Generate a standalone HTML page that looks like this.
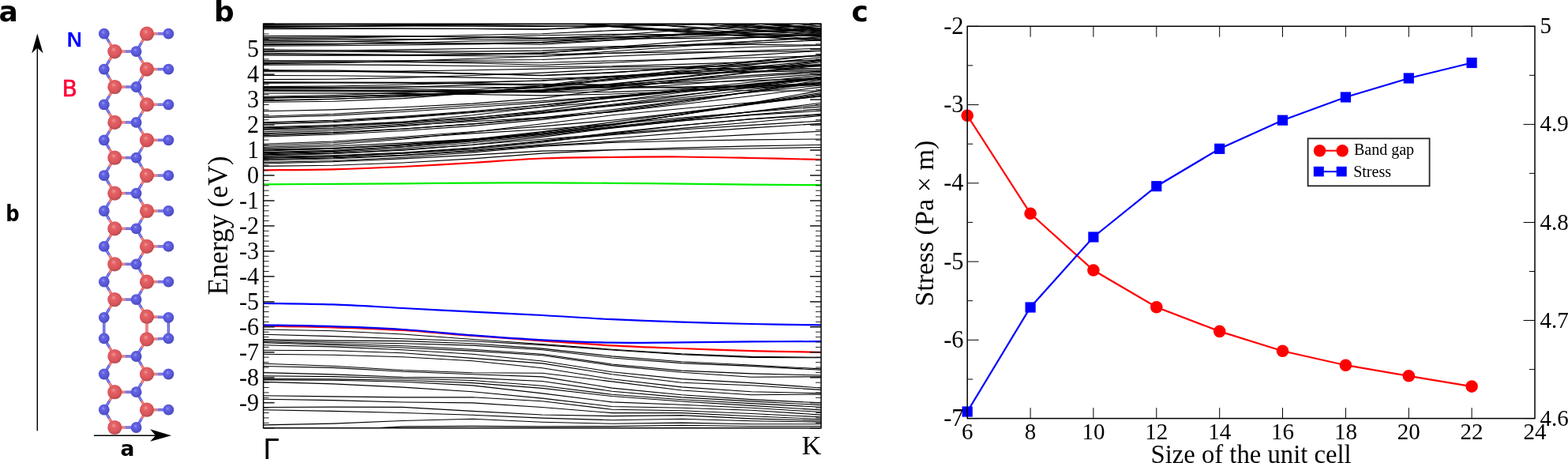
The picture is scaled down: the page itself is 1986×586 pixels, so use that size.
<!DOCTYPE html><html><head><meta charset="utf-8"><style>html,body{margin:0;padding:0;background:#fff;}svg{display:block;}</style></head><body>
<svg width="1986" height="586" viewBox="0 0 1986 586">
<rect width="100%" height="100%" fill="#fff"/>
<text x="-1.5" y="27" font-family="'DejaVu Sans', 'Liberation Sans', sans-serif" font-weight="bold" font-size="36">a</text>
<text x="271" y="27" font-family="'DejaVu Sans', 'Liberation Sans', sans-serif" font-weight="bold" font-size="36">b</text>
<text x="1078.5" y="27" font-family="'DejaVu Sans', 'Liberation Sans', sans-serif" font-weight="bold" font-size="36">c</text>
<g id="pa">
<defs>
<radialGradient id="gB" cx="0.45" cy="0.42" r="0.62" fx="0.42" fy="0.36"><stop offset="0" stop-color="#f09a9a"/><stop offset="0.25" stop-color="#e46468"/><stop offset="0.7" stop-color="#d9545a"/><stop offset="1" stop-color="#a9494c"/></radialGradient>
<radialGradient id="gN" cx="0.45" cy="0.42" r="0.62" fx="0.42" fy="0.36"><stop offset="0" stop-color="#9a9af2"/><stop offset="0.25" stop-color="#6464e4"/><stop offset="0.7" stop-color="#5454d6"/><stop offset="1" stop-color="#4545a8"/></radialGradient>
</defs>
<line x1="186.0" y1="42.7" x2="199.7" y2="42.7" stroke="#e26468" stroke-width="3.4"/>
<line x1="186.0" y1="42.7" x2="199.7" y2="42.7" stroke="#f4a4a4" stroke-width="1"/>
<line x1="199.7" y1="42.7" x2="213.4" y2="42.7" stroke="#5a5ad8" stroke-width="3.4"/>
<line x1="199.7" y1="42.7" x2="213.4" y2="42.7" stroke="#9c9cf0" stroke-width="1"/>
<line x1="145.3" y1="65.1" x2="158.9" y2="65.1" stroke="#e26468" stroke-width="3.4"/>
<line x1="145.3" y1="65.1" x2="158.9" y2="65.1" stroke="#f4a4a4" stroke-width="1"/>
<line x1="158.9" y1="65.1" x2="172.6" y2="65.1" stroke="#5a5ad8" stroke-width="3.4"/>
<line x1="158.9" y1="65.1" x2="172.6" y2="65.1" stroke="#9c9cf0" stroke-width="1"/>
<line x1="186.0" y1="87.6" x2="199.7" y2="87.6" stroke="#e26468" stroke-width="3.4"/>
<line x1="186.0" y1="87.6" x2="199.7" y2="87.6" stroke="#f4a4a4" stroke-width="1"/>
<line x1="199.7" y1="87.6" x2="213.4" y2="87.6" stroke="#5a5ad8" stroke-width="3.4"/>
<line x1="199.7" y1="87.6" x2="213.4" y2="87.6" stroke="#9c9cf0" stroke-width="1"/>
<line x1="145.3" y1="110.0" x2="158.9" y2="110.0" stroke="#e26468" stroke-width="3.4"/>
<line x1="145.3" y1="110.0" x2="158.9" y2="110.0" stroke="#f4a4a4" stroke-width="1"/>
<line x1="158.9" y1="110.0" x2="172.6" y2="110.0" stroke="#5a5ad8" stroke-width="3.4"/>
<line x1="158.9" y1="110.0" x2="172.6" y2="110.0" stroke="#9c9cf0" stroke-width="1"/>
<line x1="186.0" y1="132.4" x2="199.7" y2="132.4" stroke="#e26468" stroke-width="3.4"/>
<line x1="186.0" y1="132.4" x2="199.7" y2="132.4" stroke="#f4a4a4" stroke-width="1"/>
<line x1="199.7" y1="132.4" x2="213.4" y2="132.4" stroke="#5a5ad8" stroke-width="3.4"/>
<line x1="199.7" y1="132.4" x2="213.4" y2="132.4" stroke="#9c9cf0" stroke-width="1"/>
<line x1="145.3" y1="154.9" x2="158.9" y2="154.9" stroke="#e26468" stroke-width="3.4"/>
<line x1="145.3" y1="154.9" x2="158.9" y2="154.9" stroke="#f4a4a4" stroke-width="1"/>
<line x1="158.9" y1="154.9" x2="172.6" y2="154.9" stroke="#5a5ad8" stroke-width="3.4"/>
<line x1="158.9" y1="154.9" x2="172.6" y2="154.9" stroke="#9c9cf0" stroke-width="1"/>
<line x1="186.0" y1="177.3" x2="199.7" y2="177.3" stroke="#e26468" stroke-width="3.4"/>
<line x1="186.0" y1="177.3" x2="199.7" y2="177.3" stroke="#f4a4a4" stroke-width="1"/>
<line x1="199.7" y1="177.3" x2="213.4" y2="177.3" stroke="#5a5ad8" stroke-width="3.4"/>
<line x1="199.7" y1="177.3" x2="213.4" y2="177.3" stroke="#9c9cf0" stroke-width="1"/>
<line x1="145.3" y1="199.7" x2="158.9" y2="199.7" stroke="#e26468" stroke-width="3.4"/>
<line x1="145.3" y1="199.7" x2="158.9" y2="199.7" stroke="#f4a4a4" stroke-width="1"/>
<line x1="158.9" y1="199.7" x2="172.6" y2="199.7" stroke="#5a5ad8" stroke-width="3.4"/>
<line x1="158.9" y1="199.7" x2="172.6" y2="199.7" stroke="#9c9cf0" stroke-width="1"/>
<line x1="186.0" y1="222.1" x2="199.7" y2="222.1" stroke="#e26468" stroke-width="3.4"/>
<line x1="186.0" y1="222.1" x2="199.7" y2="222.1" stroke="#f4a4a4" stroke-width="1"/>
<line x1="199.7" y1="222.1" x2="213.4" y2="222.1" stroke="#5a5ad8" stroke-width="3.4"/>
<line x1="199.7" y1="222.1" x2="213.4" y2="222.1" stroke="#9c9cf0" stroke-width="1"/>
<line x1="145.3" y1="244.6" x2="158.9" y2="244.6" stroke="#e26468" stroke-width="3.4"/>
<line x1="145.3" y1="244.6" x2="158.9" y2="244.6" stroke="#f4a4a4" stroke-width="1"/>
<line x1="158.9" y1="244.6" x2="172.6" y2="244.6" stroke="#5a5ad8" stroke-width="3.4"/>
<line x1="158.9" y1="244.6" x2="172.6" y2="244.6" stroke="#9c9cf0" stroke-width="1"/>
<line x1="186.0" y1="267.0" x2="199.7" y2="267.0" stroke="#e26468" stroke-width="3.4"/>
<line x1="186.0" y1="267.0" x2="199.7" y2="267.0" stroke="#f4a4a4" stroke-width="1"/>
<line x1="199.7" y1="267.0" x2="213.4" y2="267.0" stroke="#5a5ad8" stroke-width="3.4"/>
<line x1="199.7" y1="267.0" x2="213.4" y2="267.0" stroke="#9c9cf0" stroke-width="1"/>
<line x1="145.3" y1="289.4" x2="158.9" y2="289.4" stroke="#e26468" stroke-width="3.4"/>
<line x1="145.3" y1="289.4" x2="158.9" y2="289.4" stroke="#f4a4a4" stroke-width="1"/>
<line x1="158.9" y1="289.4" x2="172.6" y2="289.4" stroke="#5a5ad8" stroke-width="3.4"/>
<line x1="158.9" y1="289.4" x2="172.6" y2="289.4" stroke="#9c9cf0" stroke-width="1"/>
<line x1="186.0" y1="311.9" x2="199.7" y2="311.9" stroke="#e26468" stroke-width="3.4"/>
<line x1="186.0" y1="311.9" x2="199.7" y2="311.9" stroke="#f4a4a4" stroke-width="1"/>
<line x1="199.7" y1="311.9" x2="213.4" y2="311.9" stroke="#5a5ad8" stroke-width="3.4"/>
<line x1="199.7" y1="311.9" x2="213.4" y2="311.9" stroke="#9c9cf0" stroke-width="1"/>
<line x1="145.3" y1="334.3" x2="158.9" y2="334.3" stroke="#e26468" stroke-width="3.4"/>
<line x1="145.3" y1="334.3" x2="158.9" y2="334.3" stroke="#f4a4a4" stroke-width="1"/>
<line x1="158.9" y1="334.3" x2="172.6" y2="334.3" stroke="#5a5ad8" stroke-width="3.4"/>
<line x1="158.9" y1="334.3" x2="172.6" y2="334.3" stroke="#9c9cf0" stroke-width="1"/>
<line x1="186.0" y1="356.7" x2="199.7" y2="356.7" stroke="#e26468" stroke-width="3.4"/>
<line x1="186.0" y1="356.7" x2="199.7" y2="356.7" stroke="#f4a4a4" stroke-width="1"/>
<line x1="199.7" y1="356.7" x2="213.4" y2="356.7" stroke="#5a5ad8" stroke-width="3.4"/>
<line x1="199.7" y1="356.7" x2="213.4" y2="356.7" stroke="#9c9cf0" stroke-width="1"/>
<line x1="145.3" y1="379.1" x2="158.9" y2="379.1" stroke="#e26468" stroke-width="3.4"/>
<line x1="145.3" y1="379.1" x2="158.9" y2="379.1" stroke="#f4a4a4" stroke-width="1"/>
<line x1="158.9" y1="379.1" x2="172.6" y2="379.1" stroke="#5a5ad8" stroke-width="3.4"/>
<line x1="158.9" y1="379.1" x2="172.6" y2="379.1" stroke="#9c9cf0" stroke-width="1"/>
<line x1="186.0" y1="400.7" x2="199.7" y2="401.2" stroke="#e26468" stroke-width="3.4"/>
<line x1="186.0" y1="400.7" x2="199.7" y2="401.2" stroke="#f4a4a4" stroke-width="1"/>
<line x1="199.7" y1="401.2" x2="213.4" y2="401.8" stroke="#5a5ad8" stroke-width="3.4"/>
<line x1="199.7" y1="401.2" x2="213.4" y2="401.8" stroke="#9c9cf0" stroke-width="1"/>
<line x1="186.0" y1="429.4" x2="199.7" y2="428.9" stroke="#e26468" stroke-width="3.4"/>
<line x1="186.0" y1="429.4" x2="199.7" y2="428.9" stroke="#f4a4a4" stroke-width="1"/>
<line x1="199.7" y1="428.9" x2="213.4" y2="428.4" stroke="#5a5ad8" stroke-width="3.4"/>
<line x1="199.7" y1="428.9" x2="213.4" y2="428.4" stroke="#9c9cf0" stroke-width="1"/>
<line x1="145.3" y1="451.0" x2="158.9" y2="451.0" stroke="#e26468" stroke-width="3.4"/>
<line x1="145.3" y1="451.0" x2="158.9" y2="451.0" stroke="#f4a4a4" stroke-width="1"/>
<line x1="158.9" y1="451.0" x2="172.6" y2="451.0" stroke="#5a5ad8" stroke-width="3.4"/>
<line x1="158.9" y1="451.0" x2="172.6" y2="451.0" stroke="#9c9cf0" stroke-width="1"/>
<line x1="186.0" y1="473.5" x2="199.7" y2="473.5" stroke="#e26468" stroke-width="3.4"/>
<line x1="186.0" y1="473.5" x2="199.7" y2="473.5" stroke="#f4a4a4" stroke-width="1"/>
<line x1="199.7" y1="473.5" x2="213.4" y2="473.5" stroke="#5a5ad8" stroke-width="3.4"/>
<line x1="199.7" y1="473.5" x2="213.4" y2="473.5" stroke="#9c9cf0" stroke-width="1"/>
<line x1="145.3" y1="496.2" x2="158.9" y2="496.2" stroke="#e26468" stroke-width="3.4"/>
<line x1="145.3" y1="496.2" x2="158.9" y2="496.2" stroke="#f4a4a4" stroke-width="1"/>
<line x1="158.9" y1="496.2" x2="172.6" y2="496.2" stroke="#5a5ad8" stroke-width="3.4"/>
<line x1="158.9" y1="496.2" x2="172.6" y2="496.2" stroke="#9c9cf0" stroke-width="1"/>
<line x1="186.0" y1="518.7" x2="199.7" y2="518.7" stroke="#e26468" stroke-width="3.4"/>
<line x1="186.0" y1="518.7" x2="199.7" y2="518.7" stroke="#f4a4a4" stroke-width="1"/>
<line x1="199.7" y1="518.7" x2="213.4" y2="518.7" stroke="#5a5ad8" stroke-width="3.4"/>
<line x1="199.7" y1="518.7" x2="213.4" y2="518.7" stroke="#9c9cf0" stroke-width="1"/>
<line x1="145.3" y1="541.0" x2="158.9" y2="541.0" stroke="#e26468" stroke-width="3.4"/>
<line x1="145.3" y1="541.0" x2="158.9" y2="541.0" stroke="#f4a4a4" stroke-width="1"/>
<line x1="158.9" y1="541.0" x2="172.6" y2="541.0" stroke="#5a5ad8" stroke-width="3.4"/>
<line x1="158.9" y1="541.0" x2="172.6" y2="541.0" stroke="#9c9cf0" stroke-width="1"/>
<line x1="131.8" y1="42.7" x2="138.6" y2="53.9" stroke="#5a5ad8" stroke-width="3.4"/>
<line x1="131.8" y1="42.7" x2="138.6" y2="53.9" stroke="#9c9cf0" stroke-width="1"/>
<line x1="138.6" y1="53.9" x2="145.3" y2="65.1" stroke="#e26468" stroke-width="3.4"/>
<line x1="138.6" y1="53.9" x2="145.3" y2="65.1" stroke="#f4a4a4" stroke-width="1"/>
<line x1="186.0" y1="42.7" x2="179.3" y2="53.9" stroke="#e26468" stroke-width="3.4"/>
<line x1="186.0" y1="42.7" x2="179.3" y2="53.9" stroke="#f4a4a4" stroke-width="1"/>
<line x1="179.3" y1="53.9" x2="172.6" y2="65.1" stroke="#5a5ad8" stroke-width="3.4"/>
<line x1="179.3" y1="53.9" x2="172.6" y2="65.1" stroke="#9c9cf0" stroke-width="1"/>
<line x1="145.3" y1="65.1" x2="138.6" y2="76.3" stroke="#e26468" stroke-width="3.4"/>
<line x1="145.3" y1="65.1" x2="138.6" y2="76.3" stroke="#f4a4a4" stroke-width="1"/>
<line x1="138.6" y1="76.3" x2="131.8" y2="87.6" stroke="#5a5ad8" stroke-width="3.4"/>
<line x1="138.6" y1="76.3" x2="131.8" y2="87.6" stroke="#9c9cf0" stroke-width="1"/>
<line x1="172.6" y1="65.1" x2="179.3" y2="76.3" stroke="#5a5ad8" stroke-width="3.4"/>
<line x1="172.6" y1="65.1" x2="179.3" y2="76.3" stroke="#9c9cf0" stroke-width="1"/>
<line x1="179.3" y1="76.3" x2="186.0" y2="87.6" stroke="#e26468" stroke-width="3.4"/>
<line x1="179.3" y1="76.3" x2="186.0" y2="87.6" stroke="#f4a4a4" stroke-width="1"/>
<line x1="131.8" y1="87.6" x2="138.6" y2="98.8" stroke="#5a5ad8" stroke-width="3.4"/>
<line x1="131.8" y1="87.6" x2="138.6" y2="98.8" stroke="#9c9cf0" stroke-width="1"/>
<line x1="138.6" y1="98.8" x2="145.3" y2="110.0" stroke="#e26468" stroke-width="3.4"/>
<line x1="138.6" y1="98.8" x2="145.3" y2="110.0" stroke="#f4a4a4" stroke-width="1"/>
<line x1="186.0" y1="87.6" x2="179.3" y2="98.8" stroke="#e26468" stroke-width="3.4"/>
<line x1="186.0" y1="87.6" x2="179.3" y2="98.8" stroke="#f4a4a4" stroke-width="1"/>
<line x1="179.3" y1="98.8" x2="172.6" y2="110.0" stroke="#5a5ad8" stroke-width="3.4"/>
<line x1="179.3" y1="98.8" x2="172.6" y2="110.0" stroke="#9c9cf0" stroke-width="1"/>
<line x1="145.3" y1="110.0" x2="138.6" y2="121.2" stroke="#e26468" stroke-width="3.4"/>
<line x1="145.3" y1="110.0" x2="138.6" y2="121.2" stroke="#f4a4a4" stroke-width="1"/>
<line x1="138.6" y1="121.2" x2="131.8" y2="132.4" stroke="#5a5ad8" stroke-width="3.4"/>
<line x1="138.6" y1="121.2" x2="131.8" y2="132.4" stroke="#9c9cf0" stroke-width="1"/>
<line x1="172.6" y1="110.0" x2="179.3" y2="121.2" stroke="#5a5ad8" stroke-width="3.4"/>
<line x1="172.6" y1="110.0" x2="179.3" y2="121.2" stroke="#9c9cf0" stroke-width="1"/>
<line x1="179.3" y1="121.2" x2="186.0" y2="132.4" stroke="#e26468" stroke-width="3.4"/>
<line x1="179.3" y1="121.2" x2="186.0" y2="132.4" stroke="#f4a4a4" stroke-width="1"/>
<line x1="131.8" y1="132.4" x2="138.6" y2="143.6" stroke="#5a5ad8" stroke-width="3.4"/>
<line x1="131.8" y1="132.4" x2="138.6" y2="143.6" stroke="#9c9cf0" stroke-width="1"/>
<line x1="138.6" y1="143.6" x2="145.3" y2="154.9" stroke="#e26468" stroke-width="3.4"/>
<line x1="138.6" y1="143.6" x2="145.3" y2="154.9" stroke="#f4a4a4" stroke-width="1"/>
<line x1="186.0" y1="132.4" x2="179.3" y2="143.6" stroke="#e26468" stroke-width="3.4"/>
<line x1="186.0" y1="132.4" x2="179.3" y2="143.6" stroke="#f4a4a4" stroke-width="1"/>
<line x1="179.3" y1="143.6" x2="172.6" y2="154.9" stroke="#5a5ad8" stroke-width="3.4"/>
<line x1="179.3" y1="143.6" x2="172.6" y2="154.9" stroke="#9c9cf0" stroke-width="1"/>
<line x1="145.3" y1="154.9" x2="138.6" y2="166.1" stroke="#e26468" stroke-width="3.4"/>
<line x1="145.3" y1="154.9" x2="138.6" y2="166.1" stroke="#f4a4a4" stroke-width="1"/>
<line x1="138.6" y1="166.1" x2="131.8" y2="177.3" stroke="#5a5ad8" stroke-width="3.4"/>
<line x1="138.6" y1="166.1" x2="131.8" y2="177.3" stroke="#9c9cf0" stroke-width="1"/>
<line x1="172.6" y1="154.9" x2="179.3" y2="166.1" stroke="#5a5ad8" stroke-width="3.4"/>
<line x1="172.6" y1="154.9" x2="179.3" y2="166.1" stroke="#9c9cf0" stroke-width="1"/>
<line x1="179.3" y1="166.1" x2="186.0" y2="177.3" stroke="#e26468" stroke-width="3.4"/>
<line x1="179.3" y1="166.1" x2="186.0" y2="177.3" stroke="#f4a4a4" stroke-width="1"/>
<line x1="131.8" y1="177.3" x2="138.6" y2="188.5" stroke="#5a5ad8" stroke-width="3.4"/>
<line x1="131.8" y1="177.3" x2="138.6" y2="188.5" stroke="#9c9cf0" stroke-width="1"/>
<line x1="138.6" y1="188.5" x2="145.3" y2="199.7" stroke="#e26468" stroke-width="3.4"/>
<line x1="138.6" y1="188.5" x2="145.3" y2="199.7" stroke="#f4a4a4" stroke-width="1"/>
<line x1="186.0" y1="177.3" x2="179.3" y2="188.5" stroke="#e26468" stroke-width="3.4"/>
<line x1="186.0" y1="177.3" x2="179.3" y2="188.5" stroke="#f4a4a4" stroke-width="1"/>
<line x1="179.3" y1="188.5" x2="172.6" y2="199.7" stroke="#5a5ad8" stroke-width="3.4"/>
<line x1="179.3" y1="188.5" x2="172.6" y2="199.7" stroke="#9c9cf0" stroke-width="1"/>
<line x1="145.3" y1="199.7" x2="138.6" y2="210.9" stroke="#e26468" stroke-width="3.4"/>
<line x1="145.3" y1="199.7" x2="138.6" y2="210.9" stroke="#f4a4a4" stroke-width="1"/>
<line x1="138.6" y1="210.9" x2="131.8" y2="222.1" stroke="#5a5ad8" stroke-width="3.4"/>
<line x1="138.6" y1="210.9" x2="131.8" y2="222.1" stroke="#9c9cf0" stroke-width="1"/>
<line x1="172.6" y1="199.7" x2="179.3" y2="210.9" stroke="#5a5ad8" stroke-width="3.4"/>
<line x1="172.6" y1="199.7" x2="179.3" y2="210.9" stroke="#9c9cf0" stroke-width="1"/>
<line x1="179.3" y1="210.9" x2="186.0" y2="222.1" stroke="#e26468" stroke-width="3.4"/>
<line x1="179.3" y1="210.9" x2="186.0" y2="222.1" stroke="#f4a4a4" stroke-width="1"/>
<line x1="131.8" y1="222.1" x2="138.6" y2="233.4" stroke="#5a5ad8" stroke-width="3.4"/>
<line x1="131.8" y1="222.1" x2="138.6" y2="233.4" stroke="#9c9cf0" stroke-width="1"/>
<line x1="138.6" y1="233.4" x2="145.3" y2="244.6" stroke="#e26468" stroke-width="3.4"/>
<line x1="138.6" y1="233.4" x2="145.3" y2="244.6" stroke="#f4a4a4" stroke-width="1"/>
<line x1="186.0" y1="222.1" x2="179.3" y2="233.4" stroke="#e26468" stroke-width="3.4"/>
<line x1="186.0" y1="222.1" x2="179.3" y2="233.4" stroke="#f4a4a4" stroke-width="1"/>
<line x1="179.3" y1="233.4" x2="172.6" y2="244.6" stroke="#5a5ad8" stroke-width="3.4"/>
<line x1="179.3" y1="233.4" x2="172.6" y2="244.6" stroke="#9c9cf0" stroke-width="1"/>
<line x1="145.3" y1="244.6" x2="138.6" y2="255.8" stroke="#e26468" stroke-width="3.4"/>
<line x1="145.3" y1="244.6" x2="138.6" y2="255.8" stroke="#f4a4a4" stroke-width="1"/>
<line x1="138.6" y1="255.8" x2="131.8" y2="267.0" stroke="#5a5ad8" stroke-width="3.4"/>
<line x1="138.6" y1="255.8" x2="131.8" y2="267.0" stroke="#9c9cf0" stroke-width="1"/>
<line x1="172.6" y1="244.6" x2="179.3" y2="255.8" stroke="#5a5ad8" stroke-width="3.4"/>
<line x1="172.6" y1="244.6" x2="179.3" y2="255.8" stroke="#9c9cf0" stroke-width="1"/>
<line x1="179.3" y1="255.8" x2="186.0" y2="267.0" stroke="#e26468" stroke-width="3.4"/>
<line x1="179.3" y1="255.8" x2="186.0" y2="267.0" stroke="#f4a4a4" stroke-width="1"/>
<line x1="131.8" y1="267.0" x2="138.6" y2="278.2" stroke="#5a5ad8" stroke-width="3.4"/>
<line x1="131.8" y1="267.0" x2="138.6" y2="278.2" stroke="#9c9cf0" stroke-width="1"/>
<line x1="138.6" y1="278.2" x2="145.3" y2="289.4" stroke="#e26468" stroke-width="3.4"/>
<line x1="138.6" y1="278.2" x2="145.3" y2="289.4" stroke="#f4a4a4" stroke-width="1"/>
<line x1="186.0" y1="267.0" x2="179.3" y2="278.2" stroke="#e26468" stroke-width="3.4"/>
<line x1="186.0" y1="267.0" x2="179.3" y2="278.2" stroke="#f4a4a4" stroke-width="1"/>
<line x1="179.3" y1="278.2" x2="172.6" y2="289.4" stroke="#5a5ad8" stroke-width="3.4"/>
<line x1="179.3" y1="278.2" x2="172.6" y2="289.4" stroke="#9c9cf0" stroke-width="1"/>
<line x1="145.3" y1="289.4" x2="138.6" y2="300.6" stroke="#e26468" stroke-width="3.4"/>
<line x1="145.3" y1="289.4" x2="138.6" y2="300.6" stroke="#f4a4a4" stroke-width="1"/>
<line x1="138.6" y1="300.6" x2="131.8" y2="311.9" stroke="#5a5ad8" stroke-width="3.4"/>
<line x1="138.6" y1="300.6" x2="131.8" y2="311.9" stroke="#9c9cf0" stroke-width="1"/>
<line x1="172.6" y1="289.4" x2="179.3" y2="300.6" stroke="#5a5ad8" stroke-width="3.4"/>
<line x1="172.6" y1="289.4" x2="179.3" y2="300.6" stroke="#9c9cf0" stroke-width="1"/>
<line x1="179.3" y1="300.6" x2="186.0" y2="311.9" stroke="#e26468" stroke-width="3.4"/>
<line x1="179.3" y1="300.6" x2="186.0" y2="311.9" stroke="#f4a4a4" stroke-width="1"/>
<line x1="131.8" y1="311.9" x2="138.6" y2="323.1" stroke="#5a5ad8" stroke-width="3.4"/>
<line x1="131.8" y1="311.9" x2="138.6" y2="323.1" stroke="#9c9cf0" stroke-width="1"/>
<line x1="138.6" y1="323.1" x2="145.3" y2="334.3" stroke="#e26468" stroke-width="3.4"/>
<line x1="138.6" y1="323.1" x2="145.3" y2="334.3" stroke="#f4a4a4" stroke-width="1"/>
<line x1="186.0" y1="311.9" x2="179.3" y2="323.1" stroke="#e26468" stroke-width="3.4"/>
<line x1="186.0" y1="311.9" x2="179.3" y2="323.1" stroke="#f4a4a4" stroke-width="1"/>
<line x1="179.3" y1="323.1" x2="172.6" y2="334.3" stroke="#5a5ad8" stroke-width="3.4"/>
<line x1="179.3" y1="323.1" x2="172.6" y2="334.3" stroke="#9c9cf0" stroke-width="1"/>
<line x1="145.3" y1="334.3" x2="138.6" y2="345.5" stroke="#e26468" stroke-width="3.4"/>
<line x1="145.3" y1="334.3" x2="138.6" y2="345.5" stroke="#f4a4a4" stroke-width="1"/>
<line x1="138.6" y1="345.5" x2="131.8" y2="356.7" stroke="#5a5ad8" stroke-width="3.4"/>
<line x1="138.6" y1="345.5" x2="131.8" y2="356.7" stroke="#9c9cf0" stroke-width="1"/>
<line x1="172.6" y1="334.3" x2="179.3" y2="345.5" stroke="#5a5ad8" stroke-width="3.4"/>
<line x1="172.6" y1="334.3" x2="179.3" y2="345.5" stroke="#9c9cf0" stroke-width="1"/>
<line x1="179.3" y1="345.5" x2="186.0" y2="356.7" stroke="#e26468" stroke-width="3.4"/>
<line x1="179.3" y1="345.5" x2="186.0" y2="356.7" stroke="#f4a4a4" stroke-width="1"/>
<line x1="131.8" y1="356.7" x2="138.6" y2="367.9" stroke="#5a5ad8" stroke-width="3.4"/>
<line x1="131.8" y1="356.7" x2="138.6" y2="367.9" stroke="#9c9cf0" stroke-width="1"/>
<line x1="138.6" y1="367.9" x2="145.3" y2="379.1" stroke="#e26468" stroke-width="3.4"/>
<line x1="138.6" y1="367.9" x2="145.3" y2="379.1" stroke="#f4a4a4" stroke-width="1"/>
<line x1="186.0" y1="356.7" x2="179.3" y2="367.9" stroke="#e26468" stroke-width="3.4"/>
<line x1="186.0" y1="356.7" x2="179.3" y2="367.9" stroke="#f4a4a4" stroke-width="1"/>
<line x1="179.3" y1="367.9" x2="172.6" y2="379.1" stroke="#5a5ad8" stroke-width="3.4"/>
<line x1="179.3" y1="367.9" x2="172.6" y2="379.1" stroke="#9c9cf0" stroke-width="1"/>
<line x1="145.3" y1="379.1" x2="138.6" y2="390.5" stroke="#e26468" stroke-width="3.4"/>
<line x1="145.3" y1="379.1" x2="138.6" y2="390.5" stroke="#f4a4a4" stroke-width="1"/>
<line x1="138.6" y1="390.5" x2="131.8" y2="401.8" stroke="#5a5ad8" stroke-width="3.4"/>
<line x1="138.6" y1="390.5" x2="131.8" y2="401.8" stroke="#9c9cf0" stroke-width="1"/>
<line x1="172.6" y1="379.1" x2="179.3" y2="389.9" stroke="#5a5ad8" stroke-width="3.4"/>
<line x1="172.6" y1="379.1" x2="179.3" y2="389.9" stroke="#9c9cf0" stroke-width="1"/>
<line x1="179.3" y1="389.9" x2="186.0" y2="400.7" stroke="#e26468" stroke-width="3.4"/>
<line x1="179.3" y1="389.9" x2="186.0" y2="400.7" stroke="#f4a4a4" stroke-width="1"/>
<line x1="131.8" y1="401.8" x2="131.8" y2="415.1" stroke="#5a5ad8" stroke-width="3.4"/>
<line x1="131.8" y1="401.8" x2="131.8" y2="415.1" stroke="#9c9cf0" stroke-width="1"/>
<line x1="131.8" y1="415.1" x2="131.8" y2="428.4" stroke="#5a5ad8" stroke-width="3.4"/>
<line x1="131.8" y1="415.1" x2="131.8" y2="428.4" stroke="#9c9cf0" stroke-width="1"/>
<line x1="186.0" y1="400.7" x2="186.0" y2="415.0" stroke="#e26468" stroke-width="3.4"/>
<line x1="186.0" y1="400.7" x2="186.0" y2="415.0" stroke="#f4a4a4" stroke-width="1"/>
<line x1="186.0" y1="415.0" x2="186.0" y2="429.4" stroke="#e26468" stroke-width="3.4"/>
<line x1="186.0" y1="415.0" x2="186.0" y2="429.4" stroke="#f4a4a4" stroke-width="1"/>
<line x1="213.4" y1="401.8" x2="213.4" y2="415.1" stroke="#5a5ad8" stroke-width="3.4"/>
<line x1="213.4" y1="401.8" x2="213.4" y2="415.1" stroke="#9c9cf0" stroke-width="1"/>
<line x1="213.4" y1="415.1" x2="213.4" y2="428.4" stroke="#5a5ad8" stroke-width="3.4"/>
<line x1="213.4" y1="415.1" x2="213.4" y2="428.4" stroke="#9c9cf0" stroke-width="1"/>
<line x1="131.8" y1="428.4" x2="138.6" y2="439.7" stroke="#5a5ad8" stroke-width="3.4"/>
<line x1="131.8" y1="428.4" x2="138.6" y2="439.7" stroke="#9c9cf0" stroke-width="1"/>
<line x1="138.6" y1="439.7" x2="145.3" y2="451.0" stroke="#e26468" stroke-width="3.4"/>
<line x1="138.6" y1="439.7" x2="145.3" y2="451.0" stroke="#f4a4a4" stroke-width="1"/>
<line x1="186.0" y1="429.4" x2="179.3" y2="440.2" stroke="#e26468" stroke-width="3.4"/>
<line x1="186.0" y1="429.4" x2="179.3" y2="440.2" stroke="#f4a4a4" stroke-width="1"/>
<line x1="179.3" y1="440.2" x2="172.6" y2="451.0" stroke="#5a5ad8" stroke-width="3.4"/>
<line x1="179.3" y1="440.2" x2="172.6" y2="451.0" stroke="#9c9cf0" stroke-width="1"/>
<line x1="145.3" y1="451.0" x2="138.6" y2="462.2" stroke="#e26468" stroke-width="3.4"/>
<line x1="145.3" y1="451.0" x2="138.6" y2="462.2" stroke="#f4a4a4" stroke-width="1"/>
<line x1="138.6" y1="462.2" x2="131.8" y2="473.5" stroke="#5a5ad8" stroke-width="3.4"/>
<line x1="138.6" y1="462.2" x2="131.8" y2="473.5" stroke="#9c9cf0" stroke-width="1"/>
<line x1="172.6" y1="451.0" x2="179.3" y2="462.2" stroke="#5a5ad8" stroke-width="3.4"/>
<line x1="172.6" y1="451.0" x2="179.3" y2="462.2" stroke="#9c9cf0" stroke-width="1"/>
<line x1="179.3" y1="462.2" x2="186.0" y2="473.5" stroke="#e26468" stroke-width="3.4"/>
<line x1="179.3" y1="462.2" x2="186.0" y2="473.5" stroke="#f4a4a4" stroke-width="1"/>
<line x1="131.8" y1="473.5" x2="138.6" y2="484.9" stroke="#5a5ad8" stroke-width="3.4"/>
<line x1="131.8" y1="473.5" x2="138.6" y2="484.9" stroke="#9c9cf0" stroke-width="1"/>
<line x1="138.6" y1="484.9" x2="145.3" y2="496.2" stroke="#e26468" stroke-width="3.4"/>
<line x1="138.6" y1="484.9" x2="145.3" y2="496.2" stroke="#f4a4a4" stroke-width="1"/>
<line x1="186.0" y1="473.5" x2="179.3" y2="484.9" stroke="#e26468" stroke-width="3.4"/>
<line x1="186.0" y1="473.5" x2="179.3" y2="484.9" stroke="#f4a4a4" stroke-width="1"/>
<line x1="179.3" y1="484.9" x2="172.6" y2="496.2" stroke="#5a5ad8" stroke-width="3.4"/>
<line x1="179.3" y1="484.9" x2="172.6" y2="496.2" stroke="#9c9cf0" stroke-width="1"/>
<line x1="145.3" y1="496.2" x2="138.6" y2="507.5" stroke="#e26468" stroke-width="3.4"/>
<line x1="145.3" y1="496.2" x2="138.6" y2="507.5" stroke="#f4a4a4" stroke-width="1"/>
<line x1="138.6" y1="507.5" x2="131.8" y2="518.7" stroke="#5a5ad8" stroke-width="3.4"/>
<line x1="138.6" y1="507.5" x2="131.8" y2="518.7" stroke="#9c9cf0" stroke-width="1"/>
<line x1="172.6" y1="496.2" x2="179.3" y2="507.5" stroke="#5a5ad8" stroke-width="3.4"/>
<line x1="172.6" y1="496.2" x2="179.3" y2="507.5" stroke="#9c9cf0" stroke-width="1"/>
<line x1="179.3" y1="507.5" x2="186.0" y2="518.7" stroke="#e26468" stroke-width="3.4"/>
<line x1="179.3" y1="507.5" x2="186.0" y2="518.7" stroke="#f4a4a4" stroke-width="1"/>
<line x1="131.8" y1="518.7" x2="138.6" y2="529.9" stroke="#5a5ad8" stroke-width="3.4"/>
<line x1="131.8" y1="518.7" x2="138.6" y2="529.9" stroke="#9c9cf0" stroke-width="1"/>
<line x1="138.6" y1="529.9" x2="145.3" y2="541.0" stroke="#e26468" stroke-width="3.4"/>
<line x1="138.6" y1="529.9" x2="145.3" y2="541.0" stroke="#f4a4a4" stroke-width="1"/>
<line x1="186.0" y1="518.7" x2="179.3" y2="529.9" stroke="#e26468" stroke-width="3.4"/>
<line x1="186.0" y1="518.7" x2="179.3" y2="529.9" stroke="#f4a4a4" stroke-width="1"/>
<line x1="179.3" y1="529.9" x2="172.6" y2="541.0" stroke="#5a5ad8" stroke-width="3.4"/>
<line x1="179.3" y1="529.9" x2="172.6" y2="541.0" stroke="#9c9cf0" stroke-width="1"/>
<circle cx="131.8" cy="42.7" r="6.9" fill="url(#gN)"/>
<circle cx="186.0" cy="42.7" r="9.1" fill="url(#gB)"/>
<circle cx="213.4" cy="42.7" r="6.9" fill="url(#gN)"/>
<circle cx="145.3" cy="65.1" r="9.1" fill="url(#gB)"/>
<circle cx="172.6" cy="65.1" r="6.9" fill="url(#gN)"/>
<circle cx="131.8" cy="87.6" r="6.9" fill="url(#gN)"/>
<circle cx="186.0" cy="87.6" r="9.1" fill="url(#gB)"/>
<circle cx="213.4" cy="87.6" r="6.9" fill="url(#gN)"/>
<circle cx="145.3" cy="110.0" r="9.1" fill="url(#gB)"/>
<circle cx="172.6" cy="110.0" r="6.9" fill="url(#gN)"/>
<circle cx="131.8" cy="132.4" r="6.9" fill="url(#gN)"/>
<circle cx="186.0" cy="132.4" r="9.1" fill="url(#gB)"/>
<circle cx="213.4" cy="132.4" r="6.9" fill="url(#gN)"/>
<circle cx="145.3" cy="154.9" r="9.1" fill="url(#gB)"/>
<circle cx="172.6" cy="154.9" r="6.9" fill="url(#gN)"/>
<circle cx="131.8" cy="177.3" r="6.9" fill="url(#gN)"/>
<circle cx="186.0" cy="177.3" r="9.1" fill="url(#gB)"/>
<circle cx="213.4" cy="177.3" r="6.9" fill="url(#gN)"/>
<circle cx="145.3" cy="199.7" r="9.1" fill="url(#gB)"/>
<circle cx="172.6" cy="199.7" r="6.9" fill="url(#gN)"/>
<circle cx="131.8" cy="222.1" r="6.9" fill="url(#gN)"/>
<circle cx="186.0" cy="222.1" r="9.1" fill="url(#gB)"/>
<circle cx="213.4" cy="222.1" r="6.9" fill="url(#gN)"/>
<circle cx="145.3" cy="244.6" r="9.1" fill="url(#gB)"/>
<circle cx="172.6" cy="244.6" r="6.9" fill="url(#gN)"/>
<circle cx="131.8" cy="267.0" r="6.9" fill="url(#gN)"/>
<circle cx="186.0" cy="267.0" r="9.1" fill="url(#gB)"/>
<circle cx="213.4" cy="267.0" r="6.9" fill="url(#gN)"/>
<circle cx="145.3" cy="289.4" r="9.1" fill="url(#gB)"/>
<circle cx="172.6" cy="289.4" r="6.9" fill="url(#gN)"/>
<circle cx="131.8" cy="311.9" r="6.9" fill="url(#gN)"/>
<circle cx="186.0" cy="311.9" r="9.1" fill="url(#gB)"/>
<circle cx="213.4" cy="311.9" r="6.9" fill="url(#gN)"/>
<circle cx="145.3" cy="334.3" r="9.1" fill="url(#gB)"/>
<circle cx="172.6" cy="334.3" r="6.9" fill="url(#gN)"/>
<circle cx="131.8" cy="356.7" r="6.9" fill="url(#gN)"/>
<circle cx="186.0" cy="356.7" r="9.1" fill="url(#gB)"/>
<circle cx="213.4" cy="356.7" r="6.9" fill="url(#gN)"/>
<circle cx="145.3" cy="379.1" r="9.1" fill="url(#gB)"/>
<circle cx="172.6" cy="379.1" r="6.9" fill="url(#gN)"/>
<circle cx="131.8" cy="401.8" r="6.9" fill="url(#gN)"/>
<circle cx="186.0" cy="400.7" r="9.1" fill="url(#gB)"/>
<circle cx="213.4" cy="401.8" r="6.9" fill="url(#gN)"/>
<circle cx="131.8" cy="428.4" r="6.9" fill="url(#gN)"/>
<circle cx="186.0" cy="429.4" r="9.1" fill="url(#gB)"/>
<circle cx="213.4" cy="428.4" r="6.9" fill="url(#gN)"/>
<circle cx="145.3" cy="451.0" r="9.1" fill="url(#gB)"/>
<circle cx="172.6" cy="451.0" r="6.9" fill="url(#gN)"/>
<circle cx="131.8" cy="473.5" r="6.9" fill="url(#gN)"/>
<circle cx="186.0" cy="473.5" r="9.1" fill="url(#gB)"/>
<circle cx="213.4" cy="473.5" r="6.9" fill="url(#gN)"/>
<circle cx="145.3" cy="496.2" r="9.1" fill="url(#gB)"/>
<circle cx="172.6" cy="496.2" r="6.9" fill="url(#gN)"/>
<circle cx="131.8" cy="518.7" r="6.9" fill="url(#gN)"/>
<circle cx="186.0" cy="518.7" r="9.1" fill="url(#gB)"/>
<circle cx="213.4" cy="518.7" r="6.9" fill="url(#gN)"/>
<circle cx="145.3" cy="541.0" r="9.1" fill="url(#gB)"/>
<circle cx="172.6" cy="541.0" r="6.9" fill="url(#gN)"/>
<text transform="translate(84.2,58.7) scale(1.075,1)" font-family="'DejaVu Sans', 'Liberation Sans', sans-serif" font-size="25" fill="#0000ff" stroke="#0000ff" stroke-width="0.7">N</text>
<text x="78.4" y="121.6" font-family="'DejaVu Sans', 'Liberation Sans', sans-serif" font-size="28.3" fill="#ff0038" stroke="#ff0038" stroke-width="0.6">B</text>
<text transform="translate(7.3,279.7) scale(0.9,1.03)" font-family="'DejaVu Sans', 'Liberation Sans', sans-serif" font-weight="bold" font-size="27">b</text>
<text x="152.5" y="577.3" font-family="'DejaVu Sans', 'Liberation Sans', sans-serif" font-weight="bold" font-size="26.5">a</text>
<line x1="47.3" y1="545.3" x2="47.3" y2="60" stroke="#000" stroke-width="1.45"/>
<polygon points="47.3,42.5 40.2,67.4 47.3,60.6 54.6,67.4" fill="#000"/>
<line x1="119" y1="551.2" x2="199" y2="551.2" stroke="#000" stroke-width="1.4"/>
<polygon points="217,551.2 190.2,543.3 197.1,551.2 190.2,558.7" fill="#000"/>
</g>
<defs><clipPath id="cb"><rect x="333.6" y="30.2" width="706.4" height="511.5"/></clipPath></defs>
<g clip-path="url(#cb)" fill="none" stroke-linejoin="round">
<polyline points="333.6,-37.6 421.9,-35.2 510.2,-29.8 598.5,-22.7 686.8,-15.2 775.1,-4.8 863.4,4.2 951.7,14.0 1040.0,25.5" stroke="#000" stroke-width="1.1"/>
<polyline points="333.6,-37.6 421.9,-35.6 510.2,-31.4 598.5,-24.7 686.8,-15.8 775.1,-3.3 863.4,7.7 951.7,17.4 1040.0,26.4" stroke="#000" stroke-width="1.1"/>
<polyline points="333.6,-29.8 421.9,-27.5 510.2,-22.8 598.5,-16.8 686.8,-9.6 775.1,-0.7 863.4,8.2 951.7,17.2 1040.0,26.4" stroke="#000" stroke-width="1.1"/>
<polyline points="333.6,-26.2 421.9,-24.0 510.2,-20.2 598.5,-15.9 686.8,-11.5 775.1,-2.8 863.4,7.5 951.7,18.9 1040.0,31.2" stroke="#000" stroke-width="1.1"/>
<polyline points="333.6,-24.0 421.9,-22.1 510.2,-18.9 598.5,-15.2 686.8,-11.2 775.1,-2.7 863.4,6.6 951.7,16.7 1040.0,27.4" stroke="#000" stroke-width="1.1"/>
<polyline points="333.6,-22.7 421.9,-20.1 510.2,-15.1 598.5,-8.7 686.8,-1.6 775.1,7.2 863.4,14.5 951.7,21.5 1040.0,28.6" stroke="#000" stroke-width="1.1"/>
<polyline points="333.6,-22.5 421.9,-21.1 510.2,-17.7 598.5,-12.5 686.8,-5.0 775.1,5.7 863.4,17.1 951.7,28.2 1040.0,38.7" stroke="#000" stroke-width="1.1"/>
<polyline points="333.6,-21.6 421.9,-20.2 510.2,-17.4 598.5,-13.5 686.8,-8.5 775.1,1.7 863.4,12.4 951.7,23.1 1040.0,33.6" stroke="#000" stroke-width="1.1"/>
<polyline points="333.6,-20.4 421.9,-18.7 510.2,-14.5 598.5,-8.3 686.8,-0.2 775.1,12.1 863.4,22.8 951.7,33.0 1040.0,42.6" stroke="#000" stroke-width="1.1"/>
<polyline points="333.6,-19.7 421.9,-18.3 510.2,-15.5 598.5,-11.2 686.8,-5.4 775.1,6.0 863.4,17.1 951.7,27.5 1040.0,37.2" stroke="#000" stroke-width="1.1"/>
<polyline points="333.6,-18.3 421.9,-17.1 510.2,-13.4 598.5,-7.8 686.8,-2.6 775.1,6.0 863.4,11.9 951.7,19.0 1040.0,29.0" stroke="#000" stroke-width="1.1"/>
<polyline points="333.6,-15.1 421.9,-13.4 510.2,-10.2 598.5,-6.2 686.8,-1.5 775.1,5.8 863.4,13.6 951.7,21.9 1040.0,30.4" stroke="#000" stroke-width="1.1"/>
<polyline points="333.6,-14.5 421.9,-13.2 510.2,-11.3 598.5,-9.0 686.8,-5.7 775.1,2.4 863.4,13.5 951.7,25.3 1040.0,37.1" stroke="#000" stroke-width="1.1"/>
<polyline points="333.6,-14.4 421.9,-12.7 510.2,-8.9 598.5,-3.8 686.8,1.8 775.1,9.1 863.4,15.5 951.7,22.1 1040.0,29.4" stroke="#000" stroke-width="1.1"/>
<polyline points="333.6,-13.3 421.9,-11.3 510.2,-7.1 598.5,-1.9 686.8,3.5 775.1,10.4 863.4,17.9 951.7,26.8 1040.0,36.9" stroke="#000" stroke-width="1.1"/>
<polyline points="333.6,-4.7 421.9,-3.9 510.2,-1.7 598.5,1.8 686.8,6.5 775.1,17.1 863.4,26.0 951.7,34.2 1040.0,41.8" stroke="#000" stroke-width="1.1"/>
<polyline points="333.6,-1.0 421.9,0.4 510.2,3.3 598.5,6.8 686.8,10.3 775.1,16.6 863.4,23.5 951.7,31.4 1040.0,40.1" stroke="#000" stroke-width="1.1"/>
<polyline points="333.6,0.7 421.9,1.8 510.2,4.6 598.5,8.0 686.8,10.7 775.1,17.0 863.4,22.5 951.7,29.3 1040.0,38.0" stroke="#000" stroke-width="1.1"/>
<polyline points="333.6,1.4 421.9,3.0 510.2,6.1 598.5,9.8 686.8,13.4 775.1,18.8 863.4,23.7 951.7,29.1 1040.0,35.6" stroke="#000" stroke-width="1.1"/>
<polyline points="333.6,2.0 421.9,1.6 510.2,1.7 598.5,3.0 686.8,6.4 775.1,17.1 863.4,27.7 951.7,37.2 1040.0,45.2" stroke="#000" stroke-width="1.1"/>
<polyline points="333.6,12.6 421.9,12.9 510.2,14.1 598.5,16.4 686.8,19.5 775.1,27.3 863.4,33.4 951.7,38.7 1040.0,43.3" stroke="#000" stroke-width="1.1"/>
<polyline points="333.6,12.9 421.9,14.0 510.2,15.9 598.5,18.1 686.8,20.4 775.1,25.1 863.4,29.8 951.7,34.6 1040.0,39.7" stroke="#000" stroke-width="1.1"/>
<polyline points="333.6,18.5 421.9,19.1 510.2,20.1 598.5,20.5 686.8,19.3 775.1,23.8 863.4,27.7 951.7,32.8 1040.0,39.5" stroke="#000" stroke-width="1.1"/>
<polyline points="333.6,20.7 421.9,20.1 510.2,19.9 598.5,21.0 686.8,23.8 775.1,32.5 863.4,38.4 951.7,42.2 1040.0,44.6" stroke="#000" stroke-width="1.1"/>
<polyline points="333.6,23.7 421.9,23.0 510.2,22.4 598.5,23.0 686.8,24.5 775.1,33.1 863.4,38.9 951.7,43.0 1040.0,46.1" stroke="#000" stroke-width="1.1"/>
<polyline points="333.6,25.1 421.9,24.6 510.2,24.2 598.5,24.4 686.8,25.6 775.1,33.6 863.4,40.6 951.7,46.5 1040.0,51.4" stroke="#000" stroke-width="1.1"/>
<polyline points="333.6,25.5 421.9,25.5 510.2,24.4 598.5,22.5 686.8,20.5 775.1,26.2 863.4,34.3 951.7,42.7 1040.0,50.0" stroke="#000" stroke-width="1.1"/>
<polyline points="333.6,28.3 421.9,27.8 510.2,26.9 598.5,26.2 686.8,26.0 775.1,33.6 863.4,40.1 951.7,45.9 1040.0,51.0" stroke="#000" stroke-width="1.1"/>
<polyline points="333.6,30.2 421.9,29.9 510.2,29.4 598.5,28.8 686.8,28.4 775.1,25.9 863.4,24.0 951.7,22.1 1040.0,19.8" stroke="#000" stroke-width="1.1"/>
<polyline points="333.6,31.5 421.9,30.5 510.2,29.1 598.5,28.4 686.8,28.4 775.1,30.0 863.4,29.3 951.7,26.9 1040.0,24.0" stroke="#000" stroke-width="1.1"/>
<polyline points="333.6,32.3 421.9,32.0 510.2,31.6 598.5,31.1 686.8,30.6 775.1,30.6 863.4,29.1 951.7,27.2 1040.0,25.1" stroke="#000" stroke-width="1.1"/>
<polyline points="333.6,33.4 421.9,33.1 510.2,32.9 598.5,33.1 686.8,33.4 775.1,32.4 863.4,30.1 951.7,27.1 1040.0,23.9" stroke="#000" stroke-width="1.1"/>
<polyline points="333.6,33.8 421.9,33.7 510.2,32.8 598.5,31.2 686.8,29.7 775.1,26.6 863.4,25.4 951.7,24.3 1040.0,22.2" stroke="#000" stroke-width="1.1"/>
<polyline points="333.6,34.6 421.9,33.4 510.2,32.2 598.5,32.0 686.8,32.7 775.1,33.7 863.4,31.7 951.7,28.1 1040.0,23.0" stroke="#000" stroke-width="1.1"/>
<polyline points="333.6,35.9 421.9,35.8 510.2,36.0 598.5,36.5 686.8,37.3 775.1,33.1 863.4,28.4 951.7,23.3 1040.0,18.0" stroke="#000" stroke-width="1.1"/>
<polyline points="333.6,36.7 421.9,36.4 510.2,36.2 598.5,36.4 686.8,36.9 775.1,33.3 863.4,28.7 951.7,23.7 1040.0,18.2" stroke="#000" stroke-width="1.1"/>
<polyline points="333.6,45.6 421.9,45.3 510.2,45.5 598.5,46.7 686.8,48.5 775.1,44.6 863.4,38.2 951.7,30.8 1040.0,23.1" stroke="#000" stroke-width="1.1"/>
<polyline points="333.6,47.5 421.9,46.8 510.2,46.3 598.5,46.6 686.8,48.0 775.1,46.6 863.4,43.9 951.7,40.4 1040.0,36.1" stroke="#000" stroke-width="1.1"/>
<polyline points="333.6,48.8 421.9,48.1 510.2,46.5 598.5,44.5 686.8,42.8 775.1,38.6 863.4,36.6 951.7,34.9 1040.0,33.0" stroke="#000" stroke-width="1.1"/>
<polyline points="333.6,50.6 421.9,49.9 510.2,49.6 598.5,49.8 686.8,49.2 775.1,48.2 863.4,44.5 951.7,40.7 1040.0,38.3" stroke="#000" stroke-width="1.1"/>
<polyline points="333.6,51.7 421.9,52.4 510.2,53.6 598.5,55.0 686.8,56.2 775.1,51.0 863.4,44.2 951.7,37.2 1040.0,30.2" stroke="#000" stroke-width="1.1"/>
<polyline points="333.6,53.4 421.9,52.6 510.2,50.7 598.5,47.9 686.8,44.7 775.1,43.3 863.4,43.7 951.7,44.6 1040.0,45.7" stroke="#000" stroke-width="1.1"/>
<polyline points="333.6,55.4 421.9,55.3 510.2,55.3 598.5,55.0 686.8,53.4 775.1,48.2 863.4,42.8 951.7,38.6 1040.0,36.2" stroke="#000" stroke-width="1.1"/>
<polyline points="333.6,56.6 421.9,56.1 510.2,54.3 598.5,52.0 686.8,51.2 775.1,48.8 863.4,48.6 951.7,47.2 1040.0,43.1" stroke="#000" stroke-width="1.1"/>
<polyline points="333.6,58.1 421.9,57.7 510.2,57.0 598.5,55.9 686.8,54.5 775.1,50.5 863.4,46.9 951.7,43.4 1040.0,39.9" stroke="#000" stroke-width="1.1"/>
<polyline points="333.6,63.0 421.9,63.7 510.2,64.7 598.5,65.1 686.8,64.1 775.1,60.1 863.4,57.3 951.7,56.4 1040.0,57.1" stroke="#000" stroke-width="1.1"/>
<polyline points="333.6,64.3 421.9,64.0 510.2,62.9 598.5,61.5 686.8,60.7 775.1,58.7 863.4,57.1 951.7,54.6 1040.0,51.0" stroke="#000" stroke-width="1.1"/>
<polyline points="333.6,65.5 421.9,65.2 510.2,65.9 598.5,67.5 686.8,68.7 775.1,67.3 863.4,63.2 951.7,59.5 1040.0,57.5" stroke="#000" stroke-width="1.1"/>
<polyline points="333.6,67.3 421.9,68.2 510.2,69.2 598.5,69.3 686.8,67.4 775.1,59.8 863.4,52.9 951.7,47.6 1040.0,44.4" stroke="#000" stroke-width="1.1"/>
<polyline points="333.6,68.9 421.9,69.4 510.2,70.2 598.5,70.8 686.8,71.2 775.1,65.0 863.4,58.7 951.7,52.5 1040.0,46.6" stroke="#000" stroke-width="1.1"/>
<polyline points="333.6,70.0 421.9,70.2 510.2,69.9 598.5,68.8 686.8,66.6 775.1,61.8 863.4,56.8 951.7,52.2 1040.0,48.0" stroke="#000" stroke-width="1.1"/>
<polyline points="333.6,76.8 421.9,76.8 510.2,76.7 598.5,76.2 686.8,75.5 775.1,71.3 863.4,67.6 951.7,64.3 1040.0,61.2" stroke="#000" stroke-width="1.1"/>
<polyline points="333.6,77.8 421.9,77.9 510.2,78.5 598.5,80.0 686.8,82.2 775.1,79.3 863.4,74.9 951.7,69.9 1040.0,64.3" stroke="#000" stroke-width="1.1"/>
<polyline points="333.6,79.4 421.9,78.8 510.2,78.3 598.5,78.4 686.8,79.2 775.1,77.0 863.4,75.0 951.7,73.0 1040.0,70.7" stroke="#000" stroke-width="1.1"/>
<polyline points="333.6,80.6 421.9,79.7 510.2,77.4 598.5,74.2 686.8,71.2 775.1,67.1 863.4,66.0 951.7,65.4 1040.0,64.4" stroke="#000" stroke-width="1.1"/>
<polyline points="333.6,82.1 421.9,81.9 510.2,82.4 598.5,83.5 686.8,84.3 775.1,83.9 863.4,81.4 951.7,78.5 1040.0,76.2" stroke="#000" stroke-width="1.1"/>
<polyline points="333.6,88.8 421.9,89.1 510.2,90.6 598.5,93.1 686.8,95.8 775.1,92.3 863.4,85.4 951.7,77.5 1040.0,69.5" stroke="#000" stroke-width="1.1"/>
<polyline points="333.6,89.4 421.9,90.2 510.2,91.6 598.5,93.4 686.8,95.2 775.1,91.6 863.4,86.4 951.7,80.9 1040.0,75.3" stroke="#000" stroke-width="1.1"/>
<polyline points="333.6,90.8 421.9,90.7 510.2,90.0 598.5,88.7 686.8,87.1 775.1,85.0 863.4,84.2 951.7,83.9 1040.0,83.9" stroke="#000" stroke-width="1.1"/>
<polyline points="333.6,95.5 421.9,95.8 510.2,96.8 598.5,98.1 686.8,99.7 775.1,96.6 863.4,92.1 951.7,87.4 1040.0,82.5" stroke="#000" stroke-width="1.1"/>
<polyline points="333.6,100.6 421.9,100.2 510.2,98.4 598.5,95.5 686.8,92.1 775.1,87.6 863.4,86.5 951.7,86.5 1040.0,87.0" stroke="#000" stroke-width="1.1"/>
<polyline points="333.6,103.8 421.9,104.2 510.2,104.5 598.5,103.9 686.8,102.2 775.1,97.9 863.4,93.7 951.7,90.1 1040.0,87.3" stroke="#000" stroke-width="1.1"/>
<polyline points="333.6,104.6 421.9,104.2 510.2,104.3 598.5,105.7 686.8,108.4 775.1,110.2 863.4,110.0 951.7,108.4 1040.0,105.5" stroke="#000" stroke-width="1.1"/>
<polyline points="333.6,105.2 421.9,105.0 510.2,105.2 598.5,105.9 686.8,106.6 775.1,107.2 863.4,105.0 951.7,102.0 1040.0,98.8" stroke="#000" stroke-width="1.1"/>
<polyline points="333.6,109.6 421.9,109.0 510.2,107.3 598.5,104.7 686.8,101.8 775.1,96.3 863.4,93.4 951.7,91.3 1040.0,89.4" stroke="#000" stroke-width="1.1"/>
<polyline points="333.6,110.6 421.9,110.2 510.2,109.9 598.5,110.2 686.8,111.0 775.1,111.3 863.4,110.7 951.7,109.5 1040.0,107.5" stroke="#000" stroke-width="1.1"/>
<polyline points="333.6,111.3 421.9,111.4 510.2,112.4 598.5,114.2 686.8,116.5 775.1,112.7 863.4,107.0 951.7,100.5 1040.0,93.4" stroke="#000" stroke-width="1.1"/>
<polyline points="333.6,112.2 421.9,112.0 510.2,110.2 598.5,107.6 686.8,106.3 775.1,107.7 863.4,111.8 951.7,114.8 1040.0,115.0" stroke="#000" stroke-width="1.1"/>
<polyline points="333.6,113.8 421.9,114.1 510.2,114.6 598.5,115.2 686.8,115.6 775.1,109.6 863.4,103.4 951.7,97.3 1040.0,91.4" stroke="#000" stroke-width="1.1"/>
<polyline points="333.6,114.5 421.9,115.0 510.2,115.4 598.5,115.2 686.8,114.4 775.1,107.5 863.4,101.2 951.7,95.4 1040.0,90.1" stroke="#000" stroke-width="1.1"/>
<polyline points="333.6,115.3 421.9,115.5 510.2,116.0 598.5,116.6 686.8,117.0 775.1,116.4 863.4,113.3 951.7,109.7 1040.0,105.7" stroke="#000" stroke-width="1.1"/>
<polyline points="333.6,118.0 421.9,117.9 510.2,118.4 598.5,119.5 686.8,120.9 775.1,119.0 863.4,115.5 951.7,111.4 1040.0,107.1" stroke="#000" stroke-width="1.1"/>
<polyline points="333.6,122.2 421.9,120.5 510.2,117.4 598.5,113.4 686.8,108.6 775.1,100.1 863.4,91.1 951.7,81.9 1040.0,72.5" stroke="#000" stroke-width="1.1"/>
<polyline points="333.6,123.3 421.9,122.1 510.2,119.8 598.5,117.0 686.8,113.6 775.1,106.8 863.4,97.9 951.7,88.5 1040.0,78.7" stroke="#000" stroke-width="1.1"/>
<polyline points="333.6,123.9 421.9,122.7 510.2,120.2 598.5,116.2 686.8,110.1 775.1,99.3 863.4,88.5 951.7,78.6 1040.0,69.9" stroke="#000" stroke-width="1.1"/>
<polyline points="333.6,124.3 421.9,123.0 510.2,120.5 598.5,117.4 686.8,113.5 775.1,106.1 863.4,97.0 951.7,87.3 1040.0,77.2" stroke="#000" stroke-width="1.1"/>
<polyline points="333.6,126.9 421.9,125.3 510.2,121.8 598.5,116.8 686.8,110.6 775.1,101.4 863.4,93.0 951.7,84.8 1040.0,76.6" stroke="#000" stroke-width="1.1"/>
<polyline points="333.6,127.7 421.9,125.5 510.2,122.1 598.5,118.5 686.8,114.8 775.1,108.6 863.4,100.6 951.7,91.5 1040.0,81.4" stroke="#000" stroke-width="1.1"/>
<polyline points="333.6,129.2 421.9,128.2 510.2,124.6 598.5,117.6 686.8,108.3 775.1,96.7 863.4,90.0 951.7,85.6 1040.0,81.5" stroke="#000" stroke-width="1.1"/>
<polyline points="333.6,140.7 421.9,138.9 510.2,135.8 598.5,131.1 686.8,124.1 775.1,113.1 863.4,101.7 951.7,91.6 1040.0,83.3" stroke="#000" stroke-width="1.1"/>
<polyline points="333.6,147.2 421.9,144.3 510.2,139.1 598.5,133.3 686.8,127.7 775.1,121.9 863.4,115.2 951.7,107.2 1040.0,97.6" stroke="#000" stroke-width="1.1"/>
<polyline points="333.6,148.7 421.9,146.1 510.2,141.5 598.5,135.8 686.8,129.6 775.1,122.4 863.4,114.7 951.7,106.4 1040.0,97.4" stroke="#000" stroke-width="1.1"/>
<polyline points="333.6,154.7 421.9,152.3 510.2,147.4 598.5,140.8 686.8,133.0 775.1,124.1 863.4,115.6 951.7,107.0 1040.0,98.1" stroke="#000" stroke-width="1.1"/>
<polyline points="333.6,155.7 421.9,153.5 510.2,148.6 598.5,141.5 686.8,132.9 775.1,123.4 863.4,115.3 951.7,107.5 1040.0,99.3" stroke="#000" stroke-width="1.1"/>
<polyline points="333.6,157.3 421.9,154.7 510.2,149.3 598.5,142.5 686.8,135.5 775.1,128.2 863.4,120.2 951.7,110.7 1040.0,99.7" stroke="#000" stroke-width="1.1"/>
<polyline points="333.6,160.8 421.9,158.4 510.2,154.2 598.5,148.7 686.8,141.6 775.1,132.3 863.4,121.1 951.7,109.5 1040.0,98.0" stroke="#000" stroke-width="1.1"/>
<polyline points="333.6,161.9 421.9,159.8 510.2,155.6 598.5,149.3 686.8,140.1 775.1,128.1 863.4,117.0 951.7,107.6 1040.0,99.9" stroke="#000" stroke-width="1.1"/>
<polyline points="333.6,163.1 421.9,160.3 510.2,154.3 598.5,145.8 686.8,135.3 775.1,123.1 863.4,113.3 951.7,104.0 1040.0,95.2" stroke="#000" stroke-width="1.1"/>
<polyline points="333.6,164.4 421.9,162.0 510.2,157.2 598.5,150.7 686.8,142.8 775.1,133.4 863.4,123.5 951.7,113.5 1040.0,103.5" stroke="#000" stroke-width="1.1"/>
<polyline points="333.6,166.8 421.9,163.5 510.2,158.5 598.5,153.7 686.8,148.7 775.1,141.7 863.4,130.0 951.7,115.9 1040.0,101.1" stroke="#000" stroke-width="1.1"/>
<polyline points="333.6,168.5 421.9,165.5 510.2,159.7 598.5,152.1 686.8,143.4 775.1,134.1 863.4,125.6 951.7,117.0 1040.0,108.0" stroke="#000" stroke-width="1.1"/>
<polyline points="333.6,169.7 421.9,167.6 510.2,163.1 598.5,156.9 686.8,148.8 775.1,138.8 863.4,127.6 951.7,116.3 1040.0,104.9" stroke="#000" stroke-width="1.1"/>
<polyline points="333.6,171.6 421.9,168.6 510.2,163.3 598.5,156.9 686.8,149.8 775.1,141.6 863.4,132.0 951.7,121.5 1040.0,110.1" stroke="#000" stroke-width="1.1"/>
<polyline points="333.6,173.0 421.9,170.3 510.2,165.5 598.5,159.4 686.8,151.4 775.1,140.6 863.4,128.2 951.7,115.8 1040.0,104.4" stroke="#000" stroke-width="1.1"/>
<polyline points="333.6,182.3 421.9,179.0 510.2,173.3 598.5,166.7 686.8,159.9 775.1,152.2 863.4,142.6 951.7,131.5 1040.0,119.0" stroke="#000" stroke-width="1.1"/>
<polyline points="333.6,184.3 421.9,180.8 510.2,174.8 598.5,168.9 686.8,163.8 775.1,157.1 863.4,145.3 951.7,130.4 1040.0,114.6" stroke="#000" stroke-width="1.1"/>
<polyline points="333.6,186.3 421.9,183.0 510.2,176.3 598.5,167.2 686.8,156.8 775.1,145.8 863.4,137.5 951.7,129.8 1040.0,122.2" stroke="#000" stroke-width="1.1"/>
<polyline points="333.6,187.5 421.9,185.0 510.2,181.1 598.5,176.1 686.8,169.2 775.1,158.7 863.4,145.0 951.7,130.8 1040.0,117.4" stroke="#000" stroke-width="1.1"/>
<polyline points="333.6,189.1 421.9,187.3 510.2,183.6 598.5,177.8 686.8,169.4 775.1,157.9 863.4,144.9 951.7,132.2 1040.0,120.2" stroke="#000" stroke-width="1.1"/>
<polyline points="333.6,190.1 421.9,188.3 510.2,183.6 598.5,176.4 686.8,166.6 775.1,154.6 863.4,143.1 951.7,132.0 1040.0,121.5" stroke="#000" stroke-width="1.1"/>
<polyline points="333.6,190.9 421.9,188.1 510.2,182.9 598.5,176.4 686.8,169.3 775.1,161.3 863.4,151.9 951.7,141.4 1040.0,130.3" stroke="#000" stroke-width="1.1"/>
<polyline points="333.6,192.6 421.9,190.4 510.2,185.6 598.5,178.9 686.8,170.2 775.1,160.2 863.4,150.6 951.7,141.4 1040.0,132.6" stroke="#000" stroke-width="1.1"/>
<polyline points="333.6,193.9 421.9,191.4 510.2,185.8 598.5,177.6 686.8,167.6 775.1,157.1 863.4,149.0 951.7,141.8 1040.0,135.1" stroke="#000" stroke-width="1.1"/>
<polyline points="333.6,194.7 421.9,192.6 510.2,187.8 598.5,180.7 686.8,171.6 775.1,161.6 863.4,153.0 951.7,145.1 1040.0,137.9" stroke="#000" stroke-width="1.1"/>
<polyline points="333.6,195.8 421.9,194.1 510.2,190.1 598.5,183.3 686.8,173.4 775.1,162.1 863.4,152.9 951.7,145.8 1040.0,140.2" stroke="#000" stroke-width="1.1"/>
<polyline points="333.6,197.1 421.9,194.5 510.2,189.6 598.5,183.3 686.8,176.3 775.1,169.5 863.4,162.4 951.7,154.7 1040.0,146.4" stroke="#000" stroke-width="1.1"/>
<polyline points="333.6,198.6 421.9,196.8 510.2,193.1 598.5,187.0 686.8,178.2 775.1,167.9 863.4,158.5 951.7,150.6 1040.0,144.3" stroke="#000" stroke-width="1.1"/>
<polyline points="333.6,199.3 421.9,197.5 510.2,194.2 598.5,188.9 686.8,180.2 775.1,169.1 863.4,158.7 951.7,150.7 1040.0,145.3" stroke="#000" stroke-width="1.1"/>
<polyline points="333.6,200.4 421.9,198.6 510.2,194.2 598.5,187.5 686.8,178.9 775.1,170.6 863.4,164.0 951.7,158.4 1040.0,153.1" stroke="#000" stroke-width="1.1"/>
<polyline points="333.6,201.5 421.9,199.9 510.2,196.2 598.5,190.6 686.8,182.9 775.1,175.2 863.4,168.1 951.7,161.9 1040.0,156.4" stroke="#000" stroke-width="1.1"/>
<polyline points="333.6,203.0 421.9,201.0 510.2,196.9 598.5,191.3 686.8,184.4 775.1,179.1 863.4,174.7 951.7,170.4 1040.0,166.3" stroke="#000" stroke-width="1.1"/>
<polyline points="333.6,205.4 421.9,203.5 510.2,199.2 598.5,192.9 686.8,185.3 775.1,180.5 863.4,178.3 951.7,176.9 1040.0,176.0" stroke="#000" stroke-width="1.1"/>
<polyline points="333.6,207.0 421.9,204.8 510.2,200.9 598.5,196.1 686.8,191.1 775.1,189.8 863.4,189.0 951.7,188.0 1040.0,186.5" stroke="#000" stroke-width="1.1"/>
<polyline points="333.6,210.4 421.9,209.2 510.2,206.0 598.5,200.9 686.8,194.1 775.1,189.8 863.4,187.1 951.7,184.9 1040.0,183.3" stroke="#000" stroke-width="1.1"/>
<polyline points="333.6,417.0 421.9,418.7 510.2,423.0 598.5,429.5 686.8,435.5 775.1,442.2 863.4,447.9 951.7,451.4 1040.0,452.2" stroke="#000" stroke-width="1.1"/>
<polyline points="333.6,423.2 421.9,425.6 510.2,428.8 598.5,431.8 686.8,436.6 775.1,443.0 863.4,448.7 951.7,452.4 1040.0,452.8" stroke="#000" stroke-width="1.1"/>
<polyline points="333.6,429.5 421.9,431.1 510.2,431.6 598.5,434.8 686.8,441.1 775.1,450.9 863.4,457.8 951.7,462.0 1040.0,466.9" stroke="#000" stroke-width="1.1"/>
<polyline points="333.6,430.7 421.9,433.3 510.2,434.8 598.5,437.1 686.8,442.8 775.1,453.0 863.4,459.6 951.7,463.4 1040.0,468.3" stroke="#000" stroke-width="1.1"/>
<polyline points="333.6,432.5 421.9,435.3 510.2,437.8 598.5,442.2 686.8,448.3 775.1,461.0 863.4,469.1 951.7,472.9 1040.0,475.0" stroke="#000" stroke-width="1.1"/>
<polyline points="333.6,433.7 421.9,436.8 510.2,440.0 598.5,444.1 686.8,449.8 775.1,462.6 863.4,471.3 951.7,477.3 1040.0,476.7" stroke="#000" stroke-width="1.1"/>
<polyline points="333.6,436.7 421.9,438.9 510.2,442.8 598.5,448.3 686.8,457.0 775.1,470.8 863.4,479.6 951.7,484.6 1040.0,491.0" stroke="#000" stroke-width="1.1"/>
<polyline points="333.6,443.2 421.9,443.7 510.2,446.7 598.5,453.4 686.8,459.9 775.1,473.7 863.4,484.2 951.7,487.7 1040.0,493.4" stroke="#000" stroke-width="1.1"/>
<polyline points="333.6,448.2 421.9,449.2 510.2,451.7 598.5,456.7 686.8,465.7 775.1,479.8 863.4,489.9 951.7,495.8 1040.0,497.7" stroke="#000" stroke-width="1.1"/>
<polyline points="333.6,460.2 421.9,463.2 510.2,468.5 598.5,471.7 686.8,472.3 775.1,482.9 863.4,494.0 951.7,499.8 1040.0,499.1" stroke="#000" stroke-width="1.1"/>
<polyline points="333.6,463.5 421.9,465.4 510.2,470.3 598.5,473.7 686.8,476.9 775.1,491.1 863.4,499.7 951.7,505.6 1040.0,509.9" stroke="#000" stroke-width="1.1"/>
<polyline points="333.6,471.6 421.9,473.9 510.2,477.3 598.5,478.4 686.8,482.5 775.1,495.2 863.4,502.9 951.7,507.9 1040.0,512.6" stroke="#000" stroke-width="1.1"/>
<polyline points="333.6,475.8 421.9,476.6 510.2,479.0 598.5,481.5 686.8,488.3 775.1,499.2 863.4,505.7 951.7,510.6 1040.0,515.3" stroke="#000" stroke-width="1.1"/>
<polyline points="333.6,479.6 421.9,479.9 510.2,481.3 598.5,484.6 686.8,491.4 775.1,501.5 863.4,508.0 951.7,513.4 1040.0,518.9" stroke="#000" stroke-width="1.1"/>
<polyline points="333.6,480.9 421.9,481.3 510.2,483.3 598.5,487.9 686.8,497.9 775.1,508.9 863.4,512.2 951.7,516.2 1040.0,521.5" stroke="#000" stroke-width="1.1"/>
<polyline points="333.6,483.4 421.9,485.9 510.2,490.1 598.5,495.7 686.8,504.1 775.1,514.5 863.4,516.2 951.7,519.2 1040.0,525.1" stroke="#000" stroke-width="1.1"/>
<polyline points="333.6,500.7 421.9,501.9 510.2,502.9 598.5,502.8 686.8,507.8 775.1,518.2 863.4,519.7 951.7,523.5 1040.0,527.8" stroke="#000" stroke-width="1.1"/>
<polyline points="333.6,505.2 421.9,506.6 510.2,509.0 598.5,509.9 686.8,515.5 775.1,522.6 863.4,522.6 951.7,526.7 1040.0,530.5" stroke="#000" stroke-width="1.1"/>
<polyline points="333.6,515.5 421.9,515.1 510.2,515.4 598.5,520.4 686.8,525.0 775.1,526.6 863.4,525.6 951.7,529.9 1040.0,532.3" stroke="#000" stroke-width="1.1"/>
<polyline points="333.6,518.7 421.9,520.4 510.2,522.5 598.5,525.3 686.8,529.1 775.1,531.7 863.4,530.3 951.7,532.8 1040.0,534.1" stroke="#000" stroke-width="1.1"/>
<polyline points="333.6,537.9 421.9,536.1 510.2,532.5 598.5,530.2 686.8,534.2 775.1,536.3 863.4,535.1 951.7,536.7 1040.0,536.8" stroke="#000" stroke-width="1.1"/>
<polyline points="333.6,548.0 421.9,544.8 510.2,539.9 598.5,539.4 686.8,539.9 775.1,539.6 863.4,538.3 951.7,539.5 1040.0,539.5" stroke="#000" stroke-width="1.1"/>
<path d="M333.6,215.3 C348.3,215.1 392.5,215.0 421.9,214.3 C451.3,213.6 480.8,212.4 510.2,211.0 C539.6,209.6 569.1,207.8 598.5,206.0 C627.9,204.2 657.4,201.7 686.8,200.5 C716.2,199.3 745.7,199.3 775.1,199.0 C804.5,198.7 834.0,198.3 863.4,198.5 C892.8,198.7 922.3,199.4 951.7,200.0 C981.1,200.6 1025.3,201.7 1040.0,202.0" stroke="#ff0000" stroke-width="2.2"/>
<path d="M333.6,233.3 C348.3,233.2 392.5,233.0 421.9,232.8 C451.3,232.6 480.8,232.5 510.2,232.3 C539.6,232.1 569.1,231.8 598.5,231.6 C627.9,231.4 657.4,231.4 686.8,231.4 C716.2,231.4 745.7,231.6 775.1,231.8 C804.5,232.0 834.0,232.3 863.4,232.6 C892.8,232.9 922.3,233.3 951.7,233.6 C981.1,233.9 1025.3,234.1 1040.0,234.2" stroke="#00ee00" stroke-width="2.2"/>
<path d="M333.6,412.6 C348.3,412.9 392.5,413.4 421.9,414.3 C451.3,415.2 480.8,416.2 510.2,418.0 C539.6,419.8 569.1,422.7 598.5,424.9 C627.9,427.1 657.4,429.2 686.8,431.3 C716.2,433.4 745.7,435.7 775.1,437.3 C804.5,438.9 834.0,439.9 863.4,441.0 C892.8,442.1 922.3,443.3 951.7,444.1 C981.1,444.9 1025.3,445.5 1040.0,445.8" stroke="#ff0000" stroke-width="2.2"/>
<path d="M333.6,383.8 C348.3,384.1 392.5,384.4 421.9,385.4 C451.3,386.4 480.8,388.5 510.2,390.0 C539.6,391.5 569.1,393.1 598.5,394.6 C627.9,396.1 657.4,397.4 686.8,399.0 C716.2,400.6 745.7,402.8 775.1,404.2 C804.5,405.6 834.0,406.7 863.4,407.7 C892.8,408.7 922.3,409.4 951.7,410.0 C981.1,410.6 1025.3,411.2 1040.0,411.4" stroke="#0000ff" stroke-width="2.2"/>
<path d="M333.6,411.4 C348.3,411.7 392.5,412.2 421.9,413.1 C451.3,414.0 480.8,415.1 510.2,417.0 C539.6,418.9 569.1,422.2 598.5,424.4 C627.9,426.6 657.4,428.8 686.8,430.3 C716.2,431.9 745.7,433.2 775.1,433.7 C804.5,434.2 834.0,433.5 863.4,433.3 C892.8,433.1 922.3,432.6 951.7,432.4 C981.1,432.2 1025.3,432.2 1040.0,432.2" stroke="#0000ff" stroke-width="2.2"/>
</g>
<line x1="333.6" y1="541.7" x2="347.6" y2="541.7" stroke="#222" stroke-width="1.6"/>
<line x1="1040.0" y1="541.7" x2="1026.0" y2="541.7" stroke="#222" stroke-width="1.6"/>
<line x1="333.6" y1="535.3" x2="340.6" y2="535.3" stroke="#222" stroke-width="1.0"/>
<line x1="1040.0" y1="535.3" x2="1033.0" y2="535.3" stroke="#222" stroke-width="1.0"/>
<line x1="333.6" y1="528.9" x2="340.6" y2="528.9" stroke="#222" stroke-width="1.0"/>
<line x1="1040.0" y1="528.9" x2="1033.0" y2="528.9" stroke="#222" stroke-width="1.0"/>
<line x1="333.6" y1="522.5" x2="340.6" y2="522.5" stroke="#222" stroke-width="1.0"/>
<line x1="1040.0" y1="522.5" x2="1033.0" y2="522.5" stroke="#222" stroke-width="1.0"/>
<line x1="333.6" y1="516.1" x2="340.6" y2="516.1" stroke="#222" stroke-width="1.0"/>
<line x1="1040.0" y1="516.1" x2="1033.0" y2="516.1" stroke="#222" stroke-width="1.0"/>
<line x1="333.6" y1="509.7" x2="347.6" y2="509.7" stroke="#222" stroke-width="1.6"/>
<line x1="1040.0" y1="509.7" x2="1026.0" y2="509.7" stroke="#222" stroke-width="1.6"/>
<line x1="333.6" y1="503.3" x2="340.6" y2="503.3" stroke="#222" stroke-width="1.0"/>
<line x1="1040.0" y1="503.3" x2="1033.0" y2="503.3" stroke="#222" stroke-width="1.0"/>
<line x1="333.6" y1="496.9" x2="340.6" y2="496.9" stroke="#222" stroke-width="1.0"/>
<line x1="1040.0" y1="496.9" x2="1033.0" y2="496.9" stroke="#222" stroke-width="1.0"/>
<line x1="333.6" y1="490.5" x2="340.6" y2="490.5" stroke="#222" stroke-width="1.0"/>
<line x1="1040.0" y1="490.5" x2="1033.0" y2="490.5" stroke="#222" stroke-width="1.0"/>
<line x1="333.6" y1="484.2" x2="340.6" y2="484.2" stroke="#222" stroke-width="1.0"/>
<line x1="1040.0" y1="484.2" x2="1033.0" y2="484.2" stroke="#222" stroke-width="1.0"/>
<line x1="333.6" y1="477.8" x2="347.6" y2="477.8" stroke="#222" stroke-width="1.6"/>
<line x1="1040.0" y1="477.8" x2="1026.0" y2="477.8" stroke="#222" stroke-width="1.6"/>
<line x1="333.6" y1="471.4" x2="340.6" y2="471.4" stroke="#222" stroke-width="1.0"/>
<line x1="1040.0" y1="471.4" x2="1033.0" y2="471.4" stroke="#222" stroke-width="1.0"/>
<line x1="333.6" y1="465.0" x2="340.6" y2="465.0" stroke="#222" stroke-width="1.0"/>
<line x1="1040.0" y1="465.0" x2="1033.0" y2="465.0" stroke="#222" stroke-width="1.0"/>
<line x1="333.6" y1="458.6" x2="340.6" y2="458.6" stroke="#222" stroke-width="1.0"/>
<line x1="1040.0" y1="458.6" x2="1033.0" y2="458.6" stroke="#222" stroke-width="1.0"/>
<line x1="333.6" y1="452.2" x2="340.6" y2="452.2" stroke="#222" stroke-width="1.0"/>
<line x1="1040.0" y1="452.2" x2="1033.0" y2="452.2" stroke="#222" stroke-width="1.0"/>
<line x1="333.6" y1="445.8" x2="347.6" y2="445.8" stroke="#222" stroke-width="1.6"/>
<line x1="1040.0" y1="445.8" x2="1026.0" y2="445.8" stroke="#222" stroke-width="1.6"/>
<line x1="333.6" y1="439.4" x2="340.6" y2="439.4" stroke="#222" stroke-width="1.0"/>
<line x1="1040.0" y1="439.4" x2="1033.0" y2="439.4" stroke="#222" stroke-width="1.0"/>
<line x1="333.6" y1="433.0" x2="340.6" y2="433.0" stroke="#222" stroke-width="1.0"/>
<line x1="1040.0" y1="433.0" x2="1033.0" y2="433.0" stroke="#222" stroke-width="1.0"/>
<line x1="333.6" y1="426.6" x2="340.6" y2="426.6" stroke="#222" stroke-width="1.0"/>
<line x1="1040.0" y1="426.6" x2="1033.0" y2="426.6" stroke="#222" stroke-width="1.0"/>
<line x1="333.6" y1="420.2" x2="340.6" y2="420.2" stroke="#222" stroke-width="1.0"/>
<line x1="1040.0" y1="420.2" x2="1033.0" y2="420.2" stroke="#222" stroke-width="1.0"/>
<line x1="333.6" y1="413.8" x2="347.6" y2="413.8" stroke="#222" stroke-width="1.6"/>
<line x1="1040.0" y1="413.8" x2="1026.0" y2="413.8" stroke="#222" stroke-width="1.6"/>
<line x1="333.6" y1="407.4" x2="340.6" y2="407.4" stroke="#222" stroke-width="1.0"/>
<line x1="1040.0" y1="407.4" x2="1033.0" y2="407.4" stroke="#222" stroke-width="1.0"/>
<line x1="333.6" y1="401.0" x2="340.6" y2="401.0" stroke="#222" stroke-width="1.0"/>
<line x1="1040.0" y1="401.0" x2="1033.0" y2="401.0" stroke="#222" stroke-width="1.0"/>
<line x1="333.6" y1="394.6" x2="340.6" y2="394.6" stroke="#222" stroke-width="1.0"/>
<line x1="1040.0" y1="394.6" x2="1033.0" y2="394.6" stroke="#222" stroke-width="1.0"/>
<line x1="333.6" y1="388.2" x2="340.6" y2="388.2" stroke="#222" stroke-width="1.0"/>
<line x1="1040.0" y1="388.2" x2="1033.0" y2="388.2" stroke="#222" stroke-width="1.0"/>
<line x1="333.6" y1="381.9" x2="347.6" y2="381.9" stroke="#222" stroke-width="1.6"/>
<line x1="1040.0" y1="381.9" x2="1026.0" y2="381.9" stroke="#222" stroke-width="1.6"/>
<line x1="333.6" y1="375.5" x2="340.6" y2="375.5" stroke="#222" stroke-width="1.0"/>
<line x1="1040.0" y1="375.5" x2="1033.0" y2="375.5" stroke="#222" stroke-width="1.0"/>
<line x1="333.6" y1="369.1" x2="340.6" y2="369.1" stroke="#222" stroke-width="1.0"/>
<line x1="1040.0" y1="369.1" x2="1033.0" y2="369.1" stroke="#222" stroke-width="1.0"/>
<line x1="333.6" y1="362.7" x2="340.6" y2="362.7" stroke="#222" stroke-width="1.0"/>
<line x1="1040.0" y1="362.7" x2="1033.0" y2="362.7" stroke="#222" stroke-width="1.0"/>
<line x1="333.6" y1="356.3" x2="340.6" y2="356.3" stroke="#222" stroke-width="1.0"/>
<line x1="1040.0" y1="356.3" x2="1033.0" y2="356.3" stroke="#222" stroke-width="1.0"/>
<line x1="333.6" y1="349.9" x2="347.6" y2="349.9" stroke="#222" stroke-width="1.6"/>
<line x1="1040.0" y1="349.9" x2="1026.0" y2="349.9" stroke="#222" stroke-width="1.6"/>
<line x1="333.6" y1="343.5" x2="340.6" y2="343.5" stroke="#222" stroke-width="1.0"/>
<line x1="1040.0" y1="343.5" x2="1033.0" y2="343.5" stroke="#222" stroke-width="1.0"/>
<line x1="333.6" y1="337.1" x2="340.6" y2="337.1" stroke="#222" stroke-width="1.0"/>
<line x1="1040.0" y1="337.1" x2="1033.0" y2="337.1" stroke="#222" stroke-width="1.0"/>
<line x1="333.6" y1="330.7" x2="340.6" y2="330.7" stroke="#222" stroke-width="1.0"/>
<line x1="1040.0" y1="330.7" x2="1033.0" y2="330.7" stroke="#222" stroke-width="1.0"/>
<line x1="333.6" y1="324.3" x2="340.6" y2="324.3" stroke="#222" stroke-width="1.0"/>
<line x1="1040.0" y1="324.3" x2="1033.0" y2="324.3" stroke="#222" stroke-width="1.0"/>
<line x1="333.6" y1="317.9" x2="347.6" y2="317.9" stroke="#222" stroke-width="1.6"/>
<line x1="1040.0" y1="317.9" x2="1026.0" y2="317.9" stroke="#222" stroke-width="1.6"/>
<line x1="333.6" y1="311.5" x2="340.6" y2="311.5" stroke="#222" stroke-width="1.0"/>
<line x1="1040.0" y1="311.5" x2="1033.0" y2="311.5" stroke="#222" stroke-width="1.0"/>
<line x1="333.6" y1="305.1" x2="340.6" y2="305.1" stroke="#222" stroke-width="1.0"/>
<line x1="1040.0" y1="305.1" x2="1033.0" y2="305.1" stroke="#222" stroke-width="1.0"/>
<line x1="333.6" y1="298.7" x2="340.6" y2="298.7" stroke="#222" stroke-width="1.0"/>
<line x1="1040.0" y1="298.7" x2="1033.0" y2="298.7" stroke="#222" stroke-width="1.0"/>
<line x1="333.6" y1="292.3" x2="340.6" y2="292.3" stroke="#222" stroke-width="1.0"/>
<line x1="1040.0" y1="292.3" x2="1033.0" y2="292.3" stroke="#222" stroke-width="1.0"/>
<line x1="333.6" y1="285.9" x2="347.6" y2="285.9" stroke="#222" stroke-width="1.6"/>
<line x1="1040.0" y1="285.9" x2="1026.0" y2="285.9" stroke="#222" stroke-width="1.6"/>
<line x1="333.6" y1="279.5" x2="340.6" y2="279.5" stroke="#222" stroke-width="1.0"/>
<line x1="1040.0" y1="279.5" x2="1033.0" y2="279.5" stroke="#222" stroke-width="1.0"/>
<line x1="333.6" y1="273.2" x2="340.6" y2="273.2" stroke="#222" stroke-width="1.0"/>
<line x1="1040.0" y1="273.2" x2="1033.0" y2="273.2" stroke="#222" stroke-width="1.0"/>
<line x1="333.6" y1="266.8" x2="340.6" y2="266.8" stroke="#222" stroke-width="1.0"/>
<line x1="1040.0" y1="266.8" x2="1033.0" y2="266.8" stroke="#222" stroke-width="1.0"/>
<line x1="333.6" y1="260.4" x2="340.6" y2="260.4" stroke="#222" stroke-width="1.0"/>
<line x1="1040.0" y1="260.4" x2="1033.0" y2="260.4" stroke="#222" stroke-width="1.0"/>
<line x1="333.6" y1="254.0" x2="347.6" y2="254.0" stroke="#222" stroke-width="1.6"/>
<line x1="1040.0" y1="254.0" x2="1026.0" y2="254.0" stroke="#222" stroke-width="1.6"/>
<line x1="333.6" y1="247.6" x2="340.6" y2="247.6" stroke="#222" stroke-width="1.0"/>
<line x1="1040.0" y1="247.6" x2="1033.0" y2="247.6" stroke="#222" stroke-width="1.0"/>
<line x1="333.6" y1="241.2" x2="340.6" y2="241.2" stroke="#222" stroke-width="1.0"/>
<line x1="1040.0" y1="241.2" x2="1033.0" y2="241.2" stroke="#222" stroke-width="1.0"/>
<line x1="333.6" y1="234.8" x2="340.6" y2="234.8" stroke="#222" stroke-width="1.0"/>
<line x1="1040.0" y1="234.8" x2="1033.0" y2="234.8" stroke="#222" stroke-width="1.0"/>
<line x1="333.6" y1="228.4" x2="340.6" y2="228.4" stroke="#222" stroke-width="1.0"/>
<line x1="1040.0" y1="228.4" x2="1033.0" y2="228.4" stroke="#222" stroke-width="1.0"/>
<line x1="333.6" y1="222.0" x2="347.6" y2="222.0" stroke="#222" stroke-width="1.6"/>
<line x1="1040.0" y1="222.0" x2="1026.0" y2="222.0" stroke="#222" stroke-width="1.6"/>
<line x1="333.6" y1="215.6" x2="340.6" y2="215.6" stroke="#222" stroke-width="1.0"/>
<line x1="1040.0" y1="215.6" x2="1033.0" y2="215.6" stroke="#222" stroke-width="1.0"/>
<line x1="333.6" y1="209.2" x2="340.6" y2="209.2" stroke="#222" stroke-width="1.0"/>
<line x1="1040.0" y1="209.2" x2="1033.0" y2="209.2" stroke="#222" stroke-width="1.0"/>
<line x1="333.6" y1="202.8" x2="340.6" y2="202.8" stroke="#222" stroke-width="1.0"/>
<line x1="1040.0" y1="202.8" x2="1033.0" y2="202.8" stroke="#222" stroke-width="1.0"/>
<line x1="333.6" y1="196.4" x2="340.6" y2="196.4" stroke="#222" stroke-width="1.0"/>
<line x1="1040.0" y1="196.4" x2="1033.0" y2="196.4" stroke="#222" stroke-width="1.0"/>
<line x1="333.6" y1="190.0" x2="347.6" y2="190.0" stroke="#222" stroke-width="1.6"/>
<line x1="1040.0" y1="190.0" x2="1026.0" y2="190.0" stroke="#222" stroke-width="1.6"/>
<line x1="333.6" y1="183.6" x2="340.6" y2="183.6" stroke="#222" stroke-width="1.0"/>
<line x1="1040.0" y1="183.6" x2="1033.0" y2="183.6" stroke="#222" stroke-width="1.0"/>
<line x1="333.6" y1="177.2" x2="340.6" y2="177.2" stroke="#222" stroke-width="1.0"/>
<line x1="1040.0" y1="177.2" x2="1033.0" y2="177.2" stroke="#222" stroke-width="1.0"/>
<line x1="333.6" y1="170.8" x2="340.6" y2="170.8" stroke="#222" stroke-width="1.0"/>
<line x1="1040.0" y1="170.8" x2="1033.0" y2="170.8" stroke="#222" stroke-width="1.0"/>
<line x1="333.6" y1="164.5" x2="340.6" y2="164.5" stroke="#222" stroke-width="1.0"/>
<line x1="1040.0" y1="164.5" x2="1033.0" y2="164.5" stroke="#222" stroke-width="1.0"/>
<line x1="333.6" y1="158.1" x2="347.6" y2="158.1" stroke="#222" stroke-width="1.6"/>
<line x1="1040.0" y1="158.1" x2="1026.0" y2="158.1" stroke="#222" stroke-width="1.6"/>
<line x1="333.6" y1="151.7" x2="340.6" y2="151.7" stroke="#222" stroke-width="1.0"/>
<line x1="1040.0" y1="151.7" x2="1033.0" y2="151.7" stroke="#222" stroke-width="1.0"/>
<line x1="333.6" y1="145.3" x2="340.6" y2="145.3" stroke="#222" stroke-width="1.0"/>
<line x1="1040.0" y1="145.3" x2="1033.0" y2="145.3" stroke="#222" stroke-width="1.0"/>
<line x1="333.6" y1="138.9" x2="340.6" y2="138.9" stroke="#222" stroke-width="1.0"/>
<line x1="1040.0" y1="138.9" x2="1033.0" y2="138.9" stroke="#222" stroke-width="1.0"/>
<line x1="333.6" y1="132.5" x2="340.6" y2="132.5" stroke="#222" stroke-width="1.0"/>
<line x1="1040.0" y1="132.5" x2="1033.0" y2="132.5" stroke="#222" stroke-width="1.0"/>
<line x1="333.6" y1="126.1" x2="347.6" y2="126.1" stroke="#222" stroke-width="1.6"/>
<line x1="1040.0" y1="126.1" x2="1026.0" y2="126.1" stroke="#222" stroke-width="1.6"/>
<line x1="333.6" y1="119.7" x2="340.6" y2="119.7" stroke="#222" stroke-width="1.0"/>
<line x1="1040.0" y1="119.7" x2="1033.0" y2="119.7" stroke="#222" stroke-width="1.0"/>
<line x1="333.6" y1="113.3" x2="340.6" y2="113.3" stroke="#222" stroke-width="1.0"/>
<line x1="1040.0" y1="113.3" x2="1033.0" y2="113.3" stroke="#222" stroke-width="1.0"/>
<line x1="333.6" y1="106.9" x2="340.6" y2="106.9" stroke="#222" stroke-width="1.0"/>
<line x1="1040.0" y1="106.9" x2="1033.0" y2="106.9" stroke="#222" stroke-width="1.0"/>
<line x1="333.6" y1="100.5" x2="340.6" y2="100.5" stroke="#222" stroke-width="1.0"/>
<line x1="1040.0" y1="100.5" x2="1033.0" y2="100.5" stroke="#222" stroke-width="1.0"/>
<line x1="333.6" y1="94.1" x2="347.6" y2="94.1" stroke="#222" stroke-width="1.6"/>
<line x1="1040.0" y1="94.1" x2="1026.0" y2="94.1" stroke="#222" stroke-width="1.6"/>
<line x1="333.6" y1="87.7" x2="340.6" y2="87.7" stroke="#222" stroke-width="1.0"/>
<line x1="1040.0" y1="87.7" x2="1033.0" y2="87.7" stroke="#222" stroke-width="1.0"/>
<line x1="333.6" y1="81.3" x2="340.6" y2="81.3" stroke="#222" stroke-width="1.0"/>
<line x1="1040.0" y1="81.3" x2="1033.0" y2="81.3" stroke="#222" stroke-width="1.0"/>
<line x1="333.6" y1="74.9" x2="340.6" y2="74.9" stroke="#222" stroke-width="1.0"/>
<line x1="1040.0" y1="74.9" x2="1033.0" y2="74.9" stroke="#222" stroke-width="1.0"/>
<line x1="333.6" y1="68.5" x2="340.6" y2="68.5" stroke="#222" stroke-width="1.0"/>
<line x1="1040.0" y1="68.5" x2="1033.0" y2="68.5" stroke="#222" stroke-width="1.0"/>
<line x1="333.6" y1="62.2" x2="347.6" y2="62.2" stroke="#222" stroke-width="1.6"/>
<line x1="1040.0" y1="62.2" x2="1026.0" y2="62.2" stroke="#222" stroke-width="1.6"/>
<line x1="333.6" y1="55.8" x2="340.6" y2="55.8" stroke="#222" stroke-width="1.0"/>
<line x1="1040.0" y1="55.8" x2="1033.0" y2="55.8" stroke="#222" stroke-width="1.0"/>
<line x1="333.6" y1="49.4" x2="340.6" y2="49.4" stroke="#222" stroke-width="1.0"/>
<line x1="1040.0" y1="49.4" x2="1033.0" y2="49.4" stroke="#222" stroke-width="1.0"/>
<line x1="333.6" y1="43.0" x2="340.6" y2="43.0" stroke="#222" stroke-width="1.0"/>
<line x1="1040.0" y1="43.0" x2="1033.0" y2="43.0" stroke="#222" stroke-width="1.0"/>
<line x1="333.6" y1="36.6" x2="340.6" y2="36.6" stroke="#222" stroke-width="1.0"/>
<line x1="1040.0" y1="36.6" x2="1033.0" y2="36.6" stroke="#222" stroke-width="1.0"/>
<line x1="333.6" y1="30.2" x2="347.6" y2="30.2" stroke="#222" stroke-width="1.6"/>
<line x1="1040.0" y1="30.2" x2="1026.0" y2="30.2" stroke="#222" stroke-width="1.6"/>
<rect x="333.6" y="30.2" width="706.4" height="511.5" fill="none" stroke="#000" stroke-width="1.5"/>
<text transform="translate(328.0,519.9) scale(1,1.03)" text-anchor="end" font-family="'Liberation Serif', 'Times New Roman', serif" font-size="30">-9</text>
<text transform="translate(328.0,488.0) scale(1,1.03)" text-anchor="end" font-family="'Liberation Serif', 'Times New Roman', serif" font-size="30">-8</text>
<text transform="translate(328.0,456.0) scale(1,1.03)" text-anchor="end" font-family="'Liberation Serif', 'Times New Roman', serif" font-size="30">-7</text>
<text transform="translate(328.0,424.0) scale(1,1.03)" text-anchor="end" font-family="'Liberation Serif', 'Times New Roman', serif" font-size="30">-6</text>
<text transform="translate(328.0,392.1) scale(1,1.03)" text-anchor="end" font-family="'Liberation Serif', 'Times New Roman', serif" font-size="30">-5</text>
<text transform="translate(328.0,360.1) scale(1,1.03)" text-anchor="end" font-family="'Liberation Serif', 'Times New Roman', serif" font-size="30">-4</text>
<text transform="translate(328.0,328.1) scale(1,1.03)" text-anchor="end" font-family="'Liberation Serif', 'Times New Roman', serif" font-size="30">-3</text>
<text transform="translate(328.0,296.1) scale(1,1.03)" text-anchor="end" font-family="'Liberation Serif', 'Times New Roman', serif" font-size="30">-2</text>
<text transform="translate(328.0,264.2) scale(1,1.03)" text-anchor="end" font-family="'Liberation Serif', 'Times New Roman', serif" font-size="30">-1</text>
<text transform="translate(328.0,232.2) scale(1,1.03)" text-anchor="end" font-family="'Liberation Serif', 'Times New Roman', serif" font-size="30">0</text>
<text transform="translate(328.0,200.2) scale(1,1.03)" text-anchor="end" font-family="'Liberation Serif', 'Times New Roman', serif" font-size="30">1</text>
<text transform="translate(328.0,168.3) scale(1,1.03)" text-anchor="end" font-family="'Liberation Serif', 'Times New Roman', serif" font-size="30">2</text>
<text transform="translate(328.0,136.3) scale(1,1.03)" text-anchor="end" font-family="'Liberation Serif', 'Times New Roman', serif" font-size="30">3</text>
<text transform="translate(328.0,104.3) scale(1,1.03)" text-anchor="end" font-family="'Liberation Serif', 'Times New Roman', serif" font-size="30">4</text>
<text transform="translate(328.0,72.4) scale(1,1.03)" text-anchor="end" font-family="'Liberation Serif', 'Times New Roman', serif" font-size="30">5</text>
<text transform="translate(287.5,285.5) rotate(-90)" text-anchor="middle" font-family="'Liberation Serif', 'Times New Roman', serif" font-size="35.6">Energy (eV)</text>
<text x="333.0" y="580.5" font-family="'DejaVu Sans', sans-serif" font-size="36">Γ</text>
<text x="1040.5" y="574.6" text-anchor="end" font-family="'Liberation Serif', 'Times New Roman', serif" font-size="34.5">K</text>
<polyline fill="none" stroke="#ff0000" stroke-width="2.2" points="1225.2,146.2 1305.1,270.2 1384.9,342.0 1464.8,388.7 1544.7,419.4 1624.5,444.2 1704.4,462.2 1784.3,475.8 1864.1,489.1"/>
<polyline fill="none" stroke="#0000ff" stroke-width="2.2" points="1225.2,521.0 1305.1,389.0 1384.9,300.0 1464.8,235.7 1544.7,188.3 1624.5,152.2 1704.4,123.0 1784.3,99.0 1864.1,79.5"/>
<circle cx="1225.2" cy="146.2" r="7.8" fill="#ff0000"/>
<circle cx="1305.1" cy="270.2" r="7.8" fill="#ff0000"/>
<circle cx="1384.9" cy="342.0" r="7.8" fill="#ff0000"/>
<circle cx="1464.8" cy="388.7" r="7.8" fill="#ff0000"/>
<circle cx="1544.7" cy="419.4" r="7.8" fill="#ff0000"/>
<circle cx="1624.5" cy="444.2" r="7.8" fill="#ff0000"/>
<circle cx="1704.4" cy="462.2" r="7.8" fill="#ff0000"/>
<circle cx="1784.3" cy="475.8" r="7.8" fill="#ff0000"/>
<circle cx="1864.1" cy="489.1" r="7.8" fill="#ff0000"/>
<rect x="1218.6" y="514.4" width="13.2" height="13.2" fill="#0000ff"/>
<rect x="1298.5" y="382.4" width="13.2" height="13.2" fill="#0000ff"/>
<rect x="1378.3" y="293.4" width="13.2" height="13.2" fill="#0000ff"/>
<rect x="1458.2" y="229.1" width="13.2" height="13.2" fill="#0000ff"/>
<rect x="1538.1" y="181.7" width="13.2" height="13.2" fill="#0000ff"/>
<rect x="1617.9" y="145.6" width="13.2" height="13.2" fill="#0000ff"/>
<rect x="1697.8" y="116.4" width="13.2" height="13.2" fill="#0000ff"/>
<rect x="1777.7" y="92.4" width="13.2" height="13.2" fill="#0000ff"/>
<rect x="1857.5" y="72.9" width="13.2" height="13.2" fill="#0000ff"/>
<line x1="1305.1" y1="33.3" x2="1305.1" y2="46.8" stroke="#000" stroke-width="1"/>
<line x1="1305.1" y1="529.6" x2="1305.1" y2="516.1" stroke="#000" stroke-width="1"/>
<line x1="1384.9" y1="33.3" x2="1384.9" y2="46.8" stroke="#000" stroke-width="1"/>
<line x1="1384.9" y1="529.6" x2="1384.9" y2="516.1" stroke="#000" stroke-width="1"/>
<line x1="1464.8" y1="33.3" x2="1464.8" y2="46.8" stroke="#000" stroke-width="1"/>
<line x1="1464.8" y1="529.6" x2="1464.8" y2="516.1" stroke="#000" stroke-width="1"/>
<line x1="1544.7" y1="33.3" x2="1544.7" y2="46.8" stroke="#000" stroke-width="1"/>
<line x1="1544.7" y1="529.6" x2="1544.7" y2="516.1" stroke="#000" stroke-width="1"/>
<line x1="1624.5" y1="33.3" x2="1624.5" y2="46.8" stroke="#000" stroke-width="1"/>
<line x1="1624.5" y1="529.6" x2="1624.5" y2="516.1" stroke="#000" stroke-width="1"/>
<line x1="1704.4" y1="33.3" x2="1704.4" y2="46.8" stroke="#000" stroke-width="1"/>
<line x1="1704.4" y1="529.6" x2="1704.4" y2="516.1" stroke="#000" stroke-width="1"/>
<line x1="1784.3" y1="33.3" x2="1784.3" y2="46.8" stroke="#000" stroke-width="1"/>
<line x1="1784.3" y1="529.6" x2="1784.3" y2="516.1" stroke="#000" stroke-width="1"/>
<line x1="1864.1" y1="33.3" x2="1864.1" y2="46.8" stroke="#000" stroke-width="1"/>
<line x1="1864.1" y1="529.6" x2="1864.1" y2="516.1" stroke="#000" stroke-width="1"/>
<line x1="1225.2" y1="33.3" x2="1239.7" y2="33.3" stroke="#000" stroke-width="1"/>
<line x1="1225.2" y1="82.9" x2="1232.2" y2="82.9" stroke="#000" stroke-width="1"/>
<line x1="1225.2" y1="132.6" x2="1239.7" y2="132.6" stroke="#000" stroke-width="1"/>
<line x1="1225.2" y1="182.2" x2="1232.2" y2="182.2" stroke="#000" stroke-width="1"/>
<line x1="1225.2" y1="231.8" x2="1239.7" y2="231.8" stroke="#000" stroke-width="1"/>
<line x1="1225.2" y1="281.4" x2="1232.2" y2="281.4" stroke="#000" stroke-width="1"/>
<line x1="1225.2" y1="331.1" x2="1239.7" y2="331.1" stroke="#000" stroke-width="1"/>
<line x1="1225.2" y1="380.7" x2="1232.2" y2="380.7" stroke="#000" stroke-width="1"/>
<line x1="1225.2" y1="430.3" x2="1239.7" y2="430.3" stroke="#000" stroke-width="1"/>
<line x1="1225.2" y1="480.0" x2="1232.2" y2="480.0" stroke="#000" stroke-width="1"/>
<line x1="1225.2" y1="529.6" x2="1239.7" y2="529.6" stroke="#000" stroke-width="1"/>
<line x1="1944.0" y1="33.3" x2="1929.5" y2="33.3" stroke="#000" stroke-width="1"/>
<line x1="1944.0" y1="95.3" x2="1937.0" y2="95.3" stroke="#000" stroke-width="1"/>
<line x1="1944.0" y1="157.4" x2="1929.5" y2="157.4" stroke="#000" stroke-width="1"/>
<line x1="1944.0" y1="219.4" x2="1937.0" y2="219.4" stroke="#000" stroke-width="1"/>
<line x1="1944.0" y1="281.5" x2="1929.5" y2="281.5" stroke="#000" stroke-width="1"/>
<line x1="1944.0" y1="343.5" x2="1937.0" y2="343.5" stroke="#000" stroke-width="1"/>
<line x1="1944.0" y1="405.5" x2="1929.5" y2="405.5" stroke="#000" stroke-width="1"/>
<line x1="1944.0" y1="467.6" x2="1937.0" y2="467.6" stroke="#000" stroke-width="1"/>
<line x1="1944.0" y1="529.6" x2="1929.5" y2="529.6" stroke="#000" stroke-width="1"/>
<rect x="1225.2" y="33.3" width="718.8" height="496.3" fill="none" stroke="#000" stroke-width="1.5"/>
<text transform="translate(1220.6,42.9) scale(1,1.0)" text-anchor="end" font-family="'Liberation Serif', 'Times New Roman', serif" font-size="30.5">-2</text>
<text transform="translate(1220.6,142.2) scale(1,1.0)" text-anchor="end" font-family="'Liberation Serif', 'Times New Roman', serif" font-size="30.5">-3</text>
<text transform="translate(1220.6,241.4) scale(1,1.0)" text-anchor="end" font-family="'Liberation Serif', 'Times New Roman', serif" font-size="30.5">-4</text>
<text transform="translate(1220.6,340.7) scale(1,1.0)" text-anchor="end" font-family="'Liberation Serif', 'Times New Roman', serif" font-size="30.5">-5</text>
<text transform="translate(1220.6,439.9) scale(1,1.0)" text-anchor="end" font-family="'Liberation Serif', 'Times New Roman', serif" font-size="30.5">-6</text>
<text transform="translate(1220.6,539.2) scale(1,1.0)" text-anchor="end" font-family="'Liberation Serif', 'Times New Roman', serif" font-size="30.5">-7</text>
<text x="1950.5" y="42.3" font-family="'Liberation Serif', 'Times New Roman', serif" font-size="29">5</text>
<text x="1950.5" y="166.4" font-family="'Liberation Serif', 'Times New Roman', serif" font-size="29">4.9</text>
<text x="1950.5" y="290.5" font-family="'Liberation Serif', 'Times New Roman', serif" font-size="29">4.8</text>
<text x="1950.5" y="414.5" font-family="'Liberation Serif', 'Times New Roman', serif" font-size="29">4.7</text>
<text x="1950.5" y="538.6" font-family="'Liberation Serif', 'Times New Roman', serif" font-size="29">4.6</text>
<text x="1225.2" y="555.7" text-anchor="middle" font-family="'Liberation Serif', 'Times New Roman', serif" font-size="29">6</text>
<text x="1305.1" y="555.7" text-anchor="middle" font-family="'Liberation Serif', 'Times New Roman', serif" font-size="29">8</text>
<text x="1384.9" y="555.7" text-anchor="middle" font-family="'Liberation Serif', 'Times New Roman', serif" font-size="29">10</text>
<text x="1464.8" y="555.7" text-anchor="middle" font-family="'Liberation Serif', 'Times New Roman', serif" font-size="29">12</text>
<text x="1544.7" y="555.7" text-anchor="middle" font-family="'Liberation Serif', 'Times New Roman', serif" font-size="29">14</text>
<text x="1624.5" y="555.7" text-anchor="middle" font-family="'Liberation Serif', 'Times New Roman', serif" font-size="29">16</text>
<text x="1704.4" y="555.7" text-anchor="middle" font-family="'Liberation Serif', 'Times New Roman', serif" font-size="29">18</text>
<text x="1784.3" y="555.7" text-anchor="middle" font-family="'Liberation Serif', 'Times New Roman', serif" font-size="29">20</text>
<text x="1864.1" y="555.7" text-anchor="middle" font-family="'Liberation Serif', 'Times New Roman', serif" font-size="29">22</text>
<text x="1944.0" y="555.7" text-anchor="middle" font-family="'Liberation Serif', 'Times New Roman', serif" font-size="29">24</text>
<text x="1457.5" y="586" font-family="'Liberation Serif', 'Times New Roman', serif" font-size="32.7">Size of the unit cell</text>
<text transform="translate(1181.6,282.6) rotate(-90)" text-anchor="middle" font-family="'Liberation Serif', 'Times New Roman', serif" font-size="34.2">Stress (Pa × m)</text>
<rect x="1656.6" y="175.3" width="154" height="60" fill="#fff" stroke="#222" stroke-width="1.8"/>
<line x1="1671.5" y1="190.7" x2="1700.2" y2="190.7" stroke="#ff0000" stroke-width="2"/>
<circle cx="1671.5" cy="190.7" r="7.7" fill="#ff0000"/><circle cx="1700.2" cy="190.7" r="7.7" fill="#ff0000"/>
<line x1="1670" y1="217.2" x2="1699" y2="217.2" stroke="#0000ff" stroke-width="2"/>
<rect x="1663.8" y="210.8" width="13" height="12.6" fill="#0000ff"/><rect x="1692.7" y="210.8" width="13" height="12.6" fill="#0000ff"/>
<text x="1715" y="196.2" font-family="'Liberation Serif', 'Times New Roman', serif" font-size="20">Band gap</text>
<text x="1714.2" y="223.6" font-family="'Liberation Serif', 'Times New Roman', serif" font-size="20">Stress</text>
</svg></body></html>
